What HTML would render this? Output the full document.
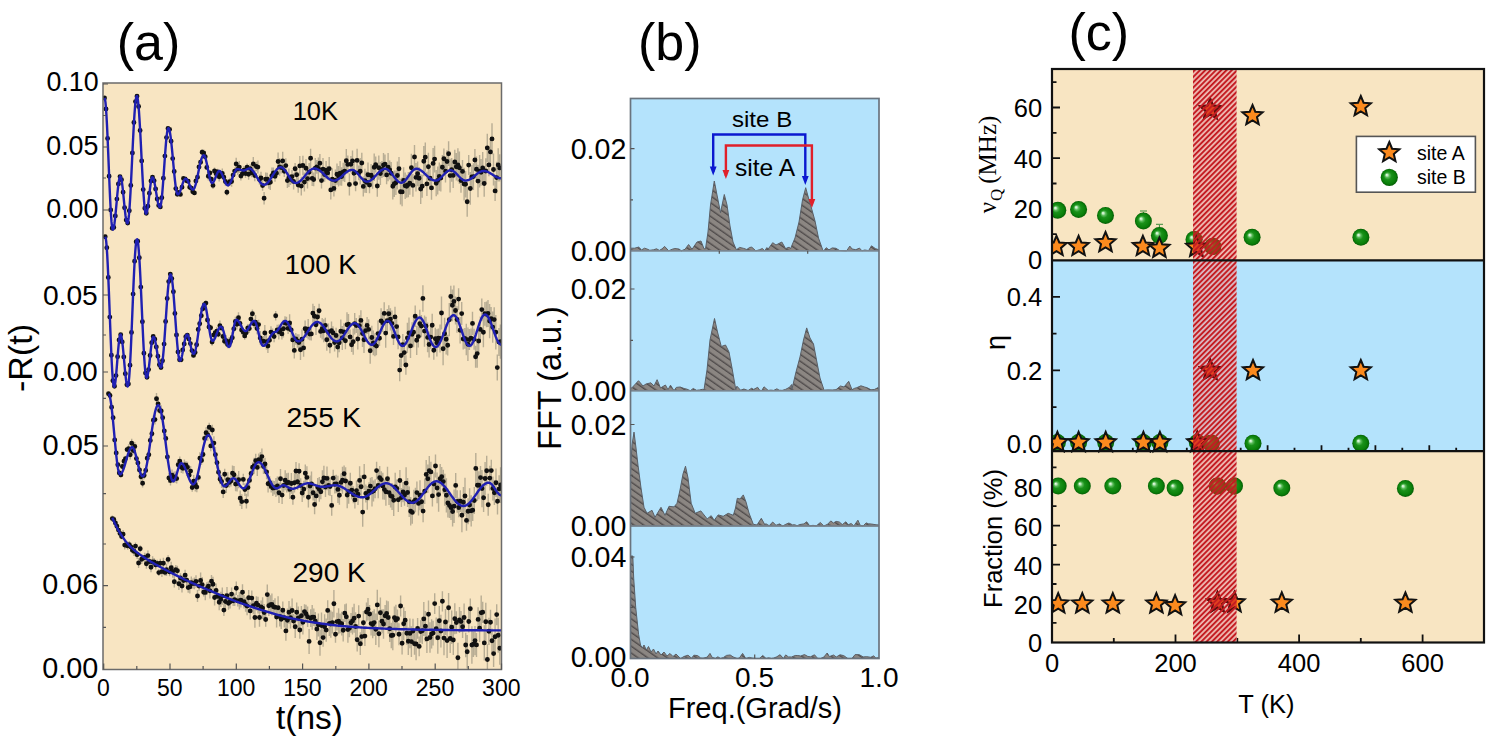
<!DOCTYPE html><html><head><meta charset="utf-8"><style>html,body{margin:0;padding:0;background:#fff;}svg{display:block;}</style></head><body>
<svg width="1494" height="748" viewBox="0 0 1494 748">
<defs>
<clipPath id="clipA"><rect x="103" y="83" width="398.5" height="586.5"/></clipPath>
<clipPath id="clipB"><rect x="630.5" y="98.5" width="248.5" height="560.0"/></clipPath>
<pattern id="hatchB" patternUnits="userSpaceOnUse" width="5.6" height="8" patternTransform="rotate(-55)"><rect width="5.6" height="8" fill="#8b8682"/><path d="M0.7 -1V9" stroke="#4c4848" stroke-width="1.3"/></pattern>
<pattern id="hatchC" patternUnits="userSpaceOnUse" width="3.75" height="3.75" patternTransform="rotate(45)"><path d="M1.9 -1V5" stroke="#c41c22" stroke-width="2.4"/></pattern>
<radialGradient id="gball" cx="0.5" cy="0.5" r="0.5" fx="0.34" fy="0.35"><stop offset="0" stop-color="#f0fff0"/><stop offset="0.12" stop-color="#bfeabf"/><stop offset="0.25" stop-color="#5cbc5c"/><stop offset="0.45" stop-color="#1a911a"/><stop offset="0.8" stop-color="#0a800a"/><stop offset="1" stop-color="#065e06"/></radialGradient>
<clipPath id="clipC"><rect x="1052" y="69" width="432" height="573.5"/></clipPath>
<clipPath id="clipBand"><rect x="1193" y="69" width="43.59999999999991" height="573.5"/></clipPath>
<radialGradient id="bball" cx="0.5" cy="0.5" r="0.5" fx="0.34" fy="0.35"><stop offset="0" stop-color="#c8a070"/><stop offset="0.3" stop-color="#8a6420"/><stop offset="1" stop-color="#6a4a0c"/></radialGradient>
</defs>
<rect width="1494" height="748" fill="#fff"/>
<rect x="103" y="83" width="398.5" height="586.5" fill="#F8E5C2"/>
<g clip-path="url(#clipA)">
<path d="M180.4 193.2v2.5M185.1 177.6v2.8M186.6 179.1v3.4M188.2 179.7v3M189.7 185.3v4.1M191.3 185.8v4.6M192.8 190v3.7M194.4 191.3v3.3M195.9 178.3v5.1M197.5 174.2v6M199 165v3.8M200.6 159.5v5.7M202.1 149v6.4M203.7 149.4v7M205.2 154.5v4.5M206.8 165.1v4.5M208.3 172.3v8.1M209.9 170.4v5M211.4 176.4v5.4M213 181.7v7.3M214.5 167.5v7M216.1 169.6v8.5M217.6 168.8v6.2M219.2 171.7v9.8M220.7 171.7v6.7M222.3 168.6v9.6M223.8 174.1v6.2M225.4 177.3v8.4M226.9 189.1v6.3M228.5 179.1v7.9M230 177.7v8M231.6 176.4v10.4M233.1 170.6v9.1M234.7 167.6v7M236.2 157.8v12.5M237.8 163v12.1M239.3 160.9v12.4M240.9 171.8v8.6M242.4 169v9.6M244 166v8.7M245.5 169.5v8.2M247.1 163.5v7.7M248.6 168.9v10.9M250.2 164.3v8.5M251.7 168.3v9M253.3 157.1v13.8M254.8 169.8v11.4M256.4 161.8v9.4M257.9 160.6v13M259.5 174.5v10.3M261 171.8v12.3M262.6 180.1v10.7M264.1 192.1v12.5M265.7 172.5v13.5M267.2 172.8v13M268.8 176.6v12.1M270.3 174.6v15.3M271.9 167.5v16.1M273.4 167.5v10.8M275 171.1v10.6M276.5 167.9v10.5M278.1 152.6v17.8M279.6 158.1v17.7M281.2 161.7v11.8M282.7 151.8v18.3M284.3 165.2v11.9M285.8 158.2v14.6M287.4 173.2v14.7M288.9 168.4v18.6M290.5 174v10.9M292 169.9v13.5M293.6 173.3v16.3M295.1 163v11.5M296.7 168.2v13.2M298.2 177.2v15.5M299.8 156.1v19.6M301.3 176.8v18.6M302.9 155.8v19.4M304.4 172.6v18.9M306 159.1v18.5M307.5 168.5v20.1M309.1 162.9v18.5M310.6 148.7v19.2M312.2 170.9v15M313.7 172.6v13.7M315.3 158.1v19.9M316.8 159.9v13.9M318.4 157.5v21.9M319.9 153.9v18.6M321.5 172.6v15.9M323 158v22.5M324.6 167.5v14.3M326.1 161.1v18.2M327.7 166v13.8M329.2 157.1v23.5M330.8 180.3v19.3M332.3 168.2v22M333.9 180.3v16.3M335.4 169.4v22.2M337 163.5v21.3M338.5 165.9v20.7M340.1 161v24.4M341.6 167.2v18.6M343.2 162.7v18.5M344.7 160.2v21.8M346.3 148.9v23.7M347.8 155.5v17.9M349.4 173.5v22M350.9 156v16.6M352.5 150.5v20.8M354 161.5v23.6M355.6 176.1v15.1M357.1 148.7v23.4M358.7 165.6v14.7M360.2 157.9v26.5M361.8 152.8v20.6M363.3 176.5v19.9M364.9 168.8v24M366.4 171.4v21.6M368 162.6v24.4M369.5 177v16.2M371.1 164v22.5M372.6 166.2v22.6M374.2 153.5v27.6M375.7 156.6v16M377.3 175.2v21.6M378.8 155.6v24.1M380.4 162v23.1M381.9 161.1v16.8M383.5 153v23.9M385 154.6v19M386.6 165.5v18.7M388.1 153v28.3M389.7 160.4v19M391.2 162v22.7M392.8 172.7v26.9M394.3 170.4v26.5M395.9 170.6v24.4M397.4 161.4v28.2M399 157.1v23.4M400.5 178.8v25.8M402.1 177.6v28.7M403.6 167.2v26.7M405.2 172.6v26.3M406.7 174.8v22.9M408.3 172v25.2M409.8 171.8v22.9M411.4 153.7v28M412.9 174v22.8M414.5 144.9v24.1M416 163.1v28.4M417.6 161.5v24.8M419.1 167v22.4M420.7 174.2v29.7M422.2 174.7v23.1M423.8 146.1v30.1M425.3 142.5v29.3M426.9 171.8v24.3M428.4 152.7v28.3M430 169.2v18.2M431.5 176.1v23.6M433.1 148v30.8M434.6 145.8v26.6M436.2 170v26.3M437.7 166.5v28M439.3 162.4v28.3M440.8 164.6v26.9M442.4 155v24.5M443.9 148.4v20.9M445.5 159.9v22.6M447 150.2v22.7M448.6 141.2v24.9M450.1 158.7v33.8M451.7 157.9v23.8M453.2 162.7v25.3M454.8 149.8v24.2M456.3 153.1v27.5M457.9 148.2v33.4M459.4 151.4v32.5M461 168.3v24.5M462.5 160v22.8M464.1 167.8v32.7M465.6 170.9v26.5M467.2 187v29.7M468.7 155.1v19.9M470.3 172.1v32.7M471.8 165.1v23.9M473.4 163.2v26.8M474.9 149v22.1M476.5 156.4v25.8M478 164.8v32.5M479.6 155v32.5M481.1 158.9v26.8M482.7 152.1v31.7M484.2 170.1v26.7M485.8 158.3v25.3M487.3 133.8v28.3M488.9 153.6v22.6M490.4 139.6v24.6M492 123.3v31.1M493.5 153.4v32.2M495.1 180.7v20.4M496.6 161.8v31.8M498.2 148.3v33.2M499.7 154.3v27.1M181.1 358.4v2.6M185.8 335.5v2.5M187.3 333.8v2.7M188.9 337v3.9M190.4 341.9v3.3M192 349v3.4M193.5 353.2v4.4M195.1 350.8v3.5M196.6 343v3.4M198.2 326.8v5.3M199.7 321v5.7M201.3 313.5v4.6M202.8 305.8v5.9M204.4 302.7v4.1M205.9 300.4v5.6M207.5 316.8v6.4M209 324.3v5.4M210.6 324.8v6M212.1 338.4v7.3M213.7 331.2v7.4M215.2 329.9v5.8M216.8 327v8.5M218.3 331.4v5.8M219.9 320.6v10.2M221.4 324.5v6.7M223 332.9v7.1M224.5 337.8v6.9M226.1 335v11.1M227.6 340.7v7.6M229.2 337.1v9.5M230.7 335v11.7M232.3 331.9v11.7M233.8 325.5v6.8M235.4 316.7v9.7M236.9 319.1v10.3M238.5 312.3v11M240 319v9M241.6 325.5v9.1M243.1 328.4v7.2M244.7 332.1v7.6M246.2 327.3v10.9M247.8 323.9v8M249.3 324.1v9M250.9 314.1v10M252.4 309.5v8.3M254 319.7v8.2M255.5 314.9v14.5M257.1 323v11.3M258.6 319.7v9.8M260.2 331.1v13.5M261.7 336.9v8.6M263.3 336v10.4M264.8 325v15.9M266.4 333.9v15.7M267.9 339.1v13.8M269.5 335.5v9.8M271 326.3v11.7M272.6 328.5v9.5M274.1 331v11.2M275.7 310.9v9.7M277.2 324.7v10.6M278.8 324.4v15M280.3 324.8v10.7M281.9 328.2v11.3M283.4 319.8v17.8M285 316.3v13.1M286.5 316.8v13.2M288.1 322.8v11.1M289.6 314.2v17.6M291.2 321.5v16.7M292.7 332.1v15.7M294.3 342.1v16.5M295.8 333v11.8M297.4 334.2v13.5M298.9 334.3v16.7M300.5 339.7v20.4M302 329.5v19.2M303.6 339.1v17.7M305.1 320.4v16.6M306.7 326v11.7M308.2 319v20.6M309.8 327.9v12.4M311.3 327.3v13.1M312.9 303.7v19M314.4 306v20.4M316 314.6v20.3M317.5 308.5v16.9M319.1 303.7v14.1M320.6 325.1v12.7M322.2 318v21.5M323.7 319.2v23M325.3 317.7v15.3M326.8 328.7v22.1M328.4 323.4v17.2M329.9 337v16.3M331.5 321.5v18.6M333 326.2v13.1M334.6 333.5v18.1M336.1 327.7v15.5M337.7 336.2v21.4M339.2 333.1v19.2M340.8 319.4v23.5M342.3 325.9v24M343.9 323.3v17.4M345.4 332.2v17M347 312.2v25M348.5 314.1v19.9M350.1 329.4v15.2M351.6 337.4v14.6M353.2 328.6v26.2M354.7 313.1v21.3M356.3 318.1v15M357.8 328.6v20.8M359.4 315.3v20.8M360.9 310.3v20.1M362.5 320.2v26.7M364 326.3v26.8M365.6 322.4v16.5M367.1 317v16.9M368.7 319.2v20.3M370.2 337.8v26M371.8 325.8v23.4M373.3 330.4v24.9M374.9 333.2v23M376.4 337v18.3M378 320.4v26.5M379.5 330.3v15.8M381.1 308.3v25.2M382.6 313.5v18.5M384.2 302.3v22.3M385.7 318.4v29.4M387.3 308.9v23.5M388.8 305.3v17M390.4 308.2v22.2M391.9 310.6v25.6M393.5 327.8v17.2M395 306.8v20.1M396.6 318.2v16.9M398.1 324.8v24.4M399.7 359v22.3M401.2 343.4v24.1M402.8 334.1v21.2M404.3 339.4v26.4M405.9 355.2v19.5M407.4 322.8v30.2M409 317.4v31.1M410.5 333.7v24.3M412.1 322.2v24M413.6 317.4v29.8M415.2 305.5v21.5M416.7 325.7v29.2M418.3 325.8v21.6M419.8 309.7v28.1M421.4 314.9v22.4M422.9 285.2v26.5M424.5 315.4v31.4M426 316.8v18.3M427.6 322.5v29.7M429.1 331.6v25.8M430.7 325.4v23.4M432.2 313.7v23M433.8 340.9v18.8M435.3 327.8v21.7M436.9 329.2v27.4M438.4 328.5v19.4M440 324.4v28.2M441.5 296.6v32.8M443.1 332.2v33.1M444.6 317.8v31.8M446.2 323.9v30.6M447.7 334.7v20.9M449.3 303v33.3M450.8 285.8v21.4M452.4 289.4v31.9M453.9 285.4v32.1M455.5 296.5v28.1M457 306.2v26.6M458.6 288.3v21.6M460.1 316.9v26.7M461.7 302v23.1M463.2 328.8v20.6M464.8 328.1v20.7M466.3 323.7v31.5M467.9 327.5v33.5M469.4 329.1v21M471 328.6v19M472.5 311.8v23.1M474.1 328.7v21M475.6 345.8v22M477.2 339.3v28.4M478.7 328.1v25.9M480.3 316.4v26.1M481.8 298.4v22.5M483.4 317.3v30M484.9 301.9v23.9M486.5 301.4v25.8M488 300.1v26.9M489.6 303.9v34.3M491.1 306.9v23.4M492.7 311.4v31.3M494.2 307.3v24.6M495.8 315v34.4M497.3 354.5v26.1M498.9 328.1v28M500.4 324.5v34.3M108.5 392.6v2.4M110 393.3v4.4M111.6 405.1v4.2M113.1 415.3v4.9M114.7 437.6v4.9M116.2 449.9v6M117.8 462.5v4.7M119.3 469.8v6.3M120.9 472.4v5.1M122.4 463.4v6.3M124 457.6v7.4M125.5 455.8v5.7M127.1 446.9v5.4M128.6 444.2v9M130.2 450v9.5M131.7 438.8v8.9M133.3 446.9v7.3M134.8 442v9M136.4 455.5v6.2M137.9 458.3v9.2M139.5 465.6v8.9M141 472.2v9.2M142.6 479.1v8.4M144.1 471.9v7.3M145.7 465.4v10M147.2 453.9v8.7M148.8 449.6v10.3M150.3 436.3v8.3M151.9 430.4v6.8M153.4 415.5v9.4M155 414.6v9.9M156.5 392.9v11.7M158.1 398.1v11.6M159.6 407.1v7M161.2 405.3v11.1M162.7 413.6v8.3M164.3 425.6v10.9M165.8 433.8v9.1M167.4 452.6v8.8M168.9 473.1v9.9M170.5 475.4v10.2M172 469.6v11.3M173.6 471.7v11M175.1 471.3v11.4M176.7 473.8v9.6M178.2 459.1v11.5M179.8 456.6v9.5M181.3 461.7v11.2M182.9 463.1v10.4M184.4 459.4v11.1M186 461.2v7.7M187.5 461.7v10.9M189.1 470.7v9.1M190.6 466v10.3M192.2 483.4v8.3M193.7 475v12.2M195.3 477.6v13.9M196.8 481.9v10.4M198.4 473.1v8.7M199.9 452.2v12.3M201.5 456.1v9M203 447.3v14.4M204.6 433.9v9.1M206.1 427.3v10.8M207.7 428.9v11.8M209.2 422.7v9.2M210.8 440.6v10.7M212.3 424.8v10.5M213.9 436.2v13.8M215.4 446.9v15.9M217 457.1v11.3M218.5 465v14.6M220.1 474.4v9.8M221.6 474.9v13.2M223.2 485.9v12.1M224.7 468.7v11.1M226.3 477.8v15.3M227.8 472.3v14.8M229.4 477.3v10.1M230.9 475.2v11.4M232.5 465.4v15.6M234 466.1v17.1M235.6 477v14.2M237.1 475.3v16.3M238.7 471v17.3M240.2 490.6v15.5M241.8 494.3v14.8M243.3 473.7v11.4M244.9 483.2v12.7M246.4 493.8v14.8M248 478.9v17.5M249.5 474.2v12.3M251.1 466.9v13.2M252.6 462.2v10.1M254.2 457.7v16M255.7 453.8v14M257.3 458.8v17.2M258.8 453.5v12.4M260.4 451.9v16.3M261.9 448.4v16.5M263.5 459.2v14.8M265 457.7v12.4M266.6 464.8v14.4M268.1 474.8v17.7M269.7 476.3v12.7M271.2 480.7v11.8M272.8 480.4v15.5M274.3 481.1v13.4M275.9 477.9v19M277.4 476.4v19.3M279 482.4v20.7M280.5 468.9v19.8M282.1 486v18M283.6 478.8v13.6M285.2 470.2v20.1M286.7 473.3v19.3M288.3 472.7v19.6M289.8 479.8v19.2M291.4 473.1v20.7M292.9 489.5v15.3M294.5 473v19.4M296 462.1v17.9M297.6 473.8v16.1M299.1 463.3v16.1M300.7 478.2v14.3M302.2 483.9v18.1M303.8 480.7v16.9M305.3 464.6v17.6M306.9 466.2v22.5M308.4 486.9v20.7M310 475.6v20.8M311.5 471.6v24.4M313.1 484.8v15.8M314.6 494.9v19.3M316.2 488.6v14.6M317.7 478.1v18.2M319.3 477v24.8M320.8 484.4v14.8M322.4 470.3v22.9M323.9 465.8v24.3M325.5 476.9v20.1M327 466.5v23.8M328.6 475.7v19.6M330.1 477.3v18.6M331.7 495.1v20.6M333.2 469.7v16.9M334.8 475.1v18.4M336.3 474.7v18.5M337.9 475.8v27.2M339.4 485.6v19.1M341 473.5v17.8M342.5 466.7v27.1M344.1 465.4v16.9M345.6 467.2v27.7M347.2 481.9v26.4M348.7 479.9v23.8M350.3 472.8v21.1M351.8 481.1v18.1M353.4 486.3v16.9M354.9 491.4v17M356.5 480.5v20.3M358 483.7v21.2M359.6 466.3v28.2M361.1 475.2v23.1M362.7 497.4v29.4M364.2 464.1v25.8M365.8 484.4v18M367.3 486v23.7M368.9 482.2v18.3M370.4 477.8v16.7M372 477.1v29.3M373.5 480.4v21M375.1 479.3v19M376.6 461.7v17.8M378.2 472.6v25.6M379.7 466.1v23M381.3 471.2v16.7M382.8 472.7v26.8M384.4 479.4v20.4M385.9 477.8v27.9M387.5 466.8v23.8M389 480.3v24.6M390.6 484v23.5M392.1 483.1v26.8M393.7 484.5v31.5M395.2 472.7v28.8M396.8 479.4v18.2M398.3 487.6v24.5M399.9 470.1v20.7M401.4 488.1v18.8M403 481.9v20.3M404.5 484.6v21.1M406.1 467.2v31.9M407.6 478.1v28.8M409.2 486.6v30.5M410.7 497.1v28.3M412.3 501.2v22.5M413.8 489.8v23.7M415.4 487.7v24.6M416.9 481.4v22.4M418.5 491.2v24.4M420 480.3v29.9M421.6 492.2v19.2M423.1 499.9v22.4M424.7 478.4v25.7M426.2 460v28.8M427.8 464.5v28.4M429.3 456v29.8M430.9 461.8v20.1M432.4 485.2v21.3M434 472.4v23.4M435.5 454.4v23.1M437.1 472.6v30.7M438.6 477.2v34.6M440.2 463.9v29.8M441.7 467v19.4M443.3 469.7v23.7M444.8 473.7v32M446.4 478.3v34.1M447.9 488.6v28.8M449.5 493.1v24.8M451 495v25M452.6 496.7v29.7M454.1 489.5v33.6M455.7 472.9v25M457.2 490.2v22.6M458.8 497.7v19.5M460.3 490.3v21.8M461.9 498.4v33.9M463.4 487.1v30.1M465 477.8v36.4M466.5 509.9v20.9M468.1 498.2v26M469.6 488.3v33.4M471.2 495.2v31.2M472.7 499.8v21.1M474.3 487v26.9M475.8 452.9v31.1M477.4 469.1v32M478.9 471.3v28M480.5 465.9v23.5M482 470v37.2M483.6 483.5v28.5M485.1 462v33M486.7 455.8v29.9M488.2 493.7v22M489.8 465.7v24.8M491.3 459.7v21.8M492.9 476.4v24.1M494.4 480.6v24.4M496 468.6v28.3M497.5 487.9v26.7M499.1 475.2v27.5M500.6 467.2v35.7M112.3 515.5v6.2M113.8 516v6.8M115.4 520.3v5.5M116.9 523.3v5.9M118.5 527.4v5.4M120 530.6v5.7M121.6 533.9v5.4M123.1 530v8.4M124.7 540.9v8.5M126.2 541.9v6.4M127.8 541.9v7.9M129.3 541v7.1M130.9 543.8v6.3M132.4 546.9v6.7M134 546.4v9.6M135.5 542.6v6.9M137.1 550.8v8.1M138.6 558.1v9.9M140.2 545.2v7M141.7 554.4v9.5M143.3 555v6.3M144.8 552.8v9.4M146.4 558.9v9.9M147.9 550.5v10.2M149.5 556v11M151 562.5v9.8M152.6 556.3v11.3M154.1 558.1v7.7M155.7 560.4v9.1M157.2 559.8v7.5M158.8 569.1v6.9M160.3 558.7v9M161.9 566.3v10.6M163.4 557.7v11.1M165 569v6.8M166.5 563.7v12.3M168.1 555.2v8.3M169.6 567.6v8.7M171.2 561.8v12M172.7 565.2v12.5M174.3 575.8v11.7M175.8 565.1v9.3M177.4 565.7v10.2M178.9 577.4v12.7M180.5 573.2v9.8M182 579.6v12.8M183.6 574.3v12.7M185.1 569.8v10.8M186.7 573.2v13.7M188.2 582.4v10.4M189.8 580.4v13M191.3 576.4v12.4M192.9 578.4v10.3M194.4 577.5v11.8M196 575.3v12.5M197.5 590v12.1M199.1 581.5v9.2M200.6 572.6v15.6M202.2 576.9v15.6M203.7 587.7v8.9M205.3 584.5v15.7M206.8 582.2v12.8M208.4 581.2v9.8M209.9 583.2v15.3M211.5 575.1v12.4M213 576.8v14.7M214.6 589.6v15.8M216.1 583.6v13.6M217.7 591.4v9.8M219.2 594.1v16.2M220.8 591.7v15.3M222.3 587.5v17.2M223.9 604.1v12M225.4 593.3v16.4M227 586.9v17.3M228.5 596.7v13M230.1 595v13.6M231.6 587.5v13.1M233.2 595.7v10.3M234.7 593.6v12.4M236.3 581.5v13.4M237.8 595.1v11.5M239.4 591.9v17.6M240.9 592.8v14.6M242.5 584.3v16M244 595v13.5M245.6 597.4v14.3M247.1 597v18.2M248.7 589.9v15.6M250.2 602.5v16.9M251.8 590.4v15.4M253.3 597.4v16.8M254.9 607.4v20.3M256.4 596.2v14.2M258 596.7v16.8M259.5 608.2v18.6M261.1 600.6v12.7M262.6 597.2v21.7M264.2 604v17.1M265.7 612.2v14.6M267.3 584.5v20.1M268.8 595.3v20.8M270.4 595.2v19M271.9 593.4v22.2M273.5 600v13.5M275 598.2v18.3M276.6 606.6v20.8M278.1 596.3v22.8M279.7 606.5v19.9M281.2 609.4v19.6M282.8 601.5v17.4M284.3 608v19.6M285.9 621.2v19.5M287.4 608.4v23.6M289 600.9v22.9M290.5 606.6v22M292.1 598.4v24.3M293.6 613.9v14.4M295.2 615.3v22.8M296.7 602.5v19.3M298.3 606.4v22.9M299.8 621.2v17.5M301.4 606v19.7M302.9 610.3v24.1M304.5 604.3v14.6M306 604.8v17.8M307.6 606.6v20.3M309.1 629v24.9M310.7 609.3v17.8M312.2 605v24.8M313.8 608.4v17.6M315.3 611.9v18.5M316.9 618.2v21.7M318.4 613.4v23.1M320 629.8v26M321.5 612.5v26.1M323.1 628.5v18.2M324.6 614.3v24.6M326.2 618.4v23.3M327.7 600.3v20.2M329.3 610.7v25.4M330.8 610.6v27.1M332.4 611.8v21.7M333.9 590v27.5M335.5 625.6v17.2M337 612.8v17.8M338.6 608.3v25.9M340.1 613.4v19.8M341.7 611.8v23.7M343.2 619v22.6M344.8 604.2v17.9M346.3 603.6v26.3M347.9 616.5v26.2M349.4 619.1v18.1M351 613v19.7M352.5 607.2v27.3M354.1 603.7v29M355.6 612.2v28.5M357.2 628v23.5M358.7 605.3v21.7M360.3 632.3v22.8M361.8 627v19.1M363.4 610.9v23.7M364.9 626.1v20M366.5 602.5v19.1M368 598v22.4M369.6 605.1v17.9M371.1 611.7v23.8M372.7 611v27.2M374.2 609.2v26.7M375.8 613.6v31.5M377.3 589.8v30.3M378.9 620.5v26.7M380.4 597.4v30.8M382 609.2v24.1M383.5 609.3v29.5M385.1 604.9v21.9M386.6 600.6v25.6M388.2 601.2v32.6M389.7 615.2v26.9M391.3 622.7v25.6M392.8 620.2v30M394.4 606.4v22.8M395.9 604.7v30.9M397.5 609.5v18.4M399 623.3v21.9M400.6 595.6v21M402.1 632.1v22.3M403.7 607.2v33.1M405.2 611v18.7M406.8 621.7v23.1M408.3 627.5v27.5M409.9 618.6v29.6M411.4 626.2v30.8M413 618.7v24.7M414.5 632.7v22.1M416.1 627.9v32.3M417.6 618.1v20.7M419.2 636.5v19.8M420.7 620.3v22.5M422.3 617.3v26.8M423.8 601.9v34.1M425.4 611v30.7M426.9 624.9v28.1M428.5 600.5v27.5M430 622.3v30.4M431.6 619.3v29.3M433.1 620.8v24.6M434.7 593.2v20.7M436.2 617.4v22.5M437.8 621.6v32.2M439.3 605.9v29.8M440.9 614.8v32.6M442.4 591.3v20.1M444 620.9v34.4M445.5 609.1v25.9M447.1 623.1v35M448.6 592.9v29.5M450.2 624.1v28.8M451.7 610.5v33.4M453.3 624.8v30.2M454.8 603.2v31.1M456.4 611.3v22.5M457.9 642.7v30.1M459.5 607v25.9M461 610.9v21.2M462.6 615.7v22.2M464.1 603.4v28.2M465.7 632.7v24.5M467.2 635.1v33.3M468.8 610.3v22.2M470.3 598.5v20.4M471.9 626.2v37.5M473.4 631.4v25.7M475 626.1v29.2M476.5 632.9v24M478.1 607.3v24M479.6 614.5v27.5M481.2 595.6v34.3M482.7 601.7v21.2M484.3 625.2v35.3M485.8 602.7v38.1M487.4 644.3v30.5M488.9 617.8v27.1M490.5 609.7v24.9M492 628.6v24M493.6 640.3v26.6M495.1 618.6v36.1M496.7 604.2v21M498.2 617.7v35.1M499.8 631.8v33" stroke="#a89f88" stroke-width="1.4" fill="none" opacity="0.8"/>
<path d="M104.5 98h0M106 109h0M107.6 138.4h0M109.1 176.2h0M110.7 210h0M112.2 228.2h0M113.8 227.4h0M115.3 215.9h0M116.9 199.1h0M118.4 183.9h0M120 176.6h0M121.5 179.8h0M123.1 192.2h0M124.6 207.8h0M126.2 220.1h0M127.7 223h0M129.3 210.7h0M130.8 185.4h0M132.4 153h0M133.9 122.5h0M135.5 101.6h0M137 96.2h0M138.6 106.5h0M140.1 130.5h0M141.7 160.9h0M143.2 189.6h0M144.8 208.3h0M146.3 213.3h0M147.9 206.3h0M149.4 193.3h0M151 181h0M152.5 177.2h0M154.1 180.7h0M155.6 189h0M157.2 199h0M158.7 205.4h0M160.3 206.9h0M161.8 197.8h0M163.4 178.2h0M164.9 156.1h0M166.5 137.6h0M168 128.5h0M169.6 129.4h0M171.1 141.2h0M172.7 158.6h0M174.2 171.5h0M175.8 188.6h0M177.3 194.2h0M178.9 192.4h0M180.4 194.4h0M182 187.3h0M183.5 178.4h0M185.1 179h0M186.6 180.8h0M188.2 181.2h0M189.7 187.3h0M191.3 188.2h0M192.8 191.8h0M194.4 192.9h0M195.9 180.9h0M197.5 177.2h0M199 166.9h0M200.6 162.3h0M202.1 152.2h0M203.7 152.9h0M205.2 156.7h0M206.8 167.4h0M208.3 176.3h0M209.9 172.9h0M211.4 179.1h0M213 185.4h0M214.5 171h0M216.1 173.8h0M217.6 172h0M219.2 176.7h0M220.7 175.1h0M222.3 173.4h0M223.8 177.2h0M225.4 181.5h0M226.9 192.3h0M228.5 183h0M230 181.7h0M231.6 181.5h0M233.1 175.1h0M234.7 171.1h0M236.2 164h0M237.8 169.1h0M239.3 167.1h0M240.9 176.1h0M242.4 173.8h0M244 170.3h0M245.5 173.5h0M247.1 167.3h0M248.6 174.3h0M250.2 168.6h0M251.7 172.8h0M253.3 164h0M254.8 175.5h0M256.4 166.5h0M257.9 167.1h0M259.5 179.6h0M261 178h0M262.6 185.5h0M264.1 198.3h0M265.7 179.2h0M267.2 179.3h0M268.8 182.7h0M270.3 182.3h0M271.9 175.6h0M273.4 172.9h0M275 176.3h0M276.5 173.2h0M278.1 161.5h0M279.6 166.9h0M281.2 167.6h0M282.7 160.9h0M284.3 171.2h0M285.8 165.6h0M287.4 180.6h0M288.9 177.7h0M290.5 179.4h0M292 176.6h0M293.6 181.4h0M295.1 168.7h0M296.7 174.8h0M298.2 185h0M299.8 165.9h0M301.3 186.1h0M302.9 165.5h0M304.4 182.1h0M306 168.3h0M307.5 178.6h0M309.1 172.2h0M310.6 158.3h0M312.2 178.4h0M313.7 179.5h0M315.3 168.1h0M316.8 166.9h0M318.4 168.5h0M319.9 163.2h0M321.5 180.6h0M323 169.2h0M324.6 174.6h0M326.1 170.2h0M327.7 172.9h0M329.2 168.8h0M330.8 189.9h0M332.3 179.2h0M333.9 188.4h0M335.4 180.5h0M337 174.2h0M338.5 176.3h0M340.1 173.2h0M341.6 176.5h0M343.2 171.9h0M344.7 171.1h0M346.3 160.7h0M347.8 164.4h0M349.4 184.5h0M350.9 164.3h0M352.5 160.9h0M354 173.3h0M355.6 183.6h0M357.1 160.4h0M358.7 173h0M360.2 171.2h0M361.8 163h0M363.3 186.4h0M364.9 180.8h0M366.4 182.2h0M368 174.8h0M369.5 185h0M371.1 175.2h0M372.6 177.5h0M374.2 167.3h0M375.7 164.6h0M377.3 186h0M378.8 167.7h0M380.4 173.5h0M381.9 169.5h0M383.5 165h0M385 164.1h0M386.6 174.9h0M388.1 167.1h0M389.7 169.9h0M391.2 173.3h0M392.8 186.2h0M394.3 183.7h0M395.9 182.8h0M397.4 175.5h0M399 168.8h0M400.5 191.7h0M402.1 191.9h0M403.6 180.5h0M405.2 185.8h0M406.7 186.2h0M408.3 184.6h0M409.8 183.2h0M411.4 167.7h0M412.9 185.4h0M414.5 157h0M416 177.4h0M417.6 173.8h0M419.1 178.2h0M420.7 189.1h0M422.2 186.3h0M423.8 161.2h0M425.3 157.2h0M426.9 183.9h0M428.4 166.8h0M430 178.2h0M431.5 187.9h0M433.1 163.4h0M434.6 159.1h0M436.2 183.2h0M437.7 180.5h0M439.3 176.5h0M440.8 178.1h0M442.4 167.2h0M443.9 158.8h0M445.5 171.2h0M447 161.5h0M448.6 153.7h0M450.1 175.6h0M451.7 169.8h0M453.2 175.4h0M454.8 161.9h0M456.3 166.8h0M457.9 164.9h0M459.4 167.7h0M461 180.5h0M462.5 171.4h0M464.1 184.1h0M465.6 184.2h0M467.2 201.8h0M468.7 165.1h0M470.3 188.5h0M471.8 177h0M473.4 176.6h0M474.9 160h0M476.5 169.3h0M478 181.1h0M479.6 171.3h0M481.1 172.3h0M482.7 167.9h0M484.2 183.5h0M485.8 171h0M487.3 147.9h0M488.9 164.9h0M490.4 151.9h0M492 138.9h0M493.5 169.5h0M495.1 190.9h0M496.6 177.6h0M498.2 164.9h0M499.7 167.9h0M105.2 236.8h0M106.8 247.7h0M108.3 277.4h0M109.8 317.1h0M111.4 355.2h0M112.9 380.7h0M114.5 386.3h0M116 375.6h0M117.6 356.8h0M119.1 340h0M120.7 334.7h0M122.2 341.9h0M123.8 357h0M125.3 373.8h0M126.9 384.8h0M128.4 384h0M130 365.2h0M131.5 332.4h0M133.1 294.1h0M134.6 261.2h0M136.2 241.8h0M137.7 241.2h0M139.3 257.8h0M140.8 287.1h0M142.4 321.7h0M143.9 353.2h0M145.5 373.1h0M147 377.3h0M148.6 369.6h0M150.1 355.5h0M151.7 342.8h0M153.2 336.5h0M154.8 339.2h0M156.3 347h0M157.9 356.3h0M159.4 364.8h0M161 367.5h0M162.5 360.8h0M164.1 344.1h0M165.6 321.5h0M167.2 298.5h0M168.7 281.6h0M170.3 274.1h0M171.8 278.6h0M173.4 291.7h0M174.9 313.4h0M176.5 335h0M178 351.9h0M179.6 359.8h0M181.1 359.7h0M182.7 349.9h0M184.2 343.9h0M185.8 336.7h0M187.3 335.1h0M188.9 338.9h0M190.4 343.6h0M192 350.6h0M193.5 355.4h0M195.1 352.5h0M196.6 344.7h0M198.2 329.5h0M199.7 323.8h0M201.3 315.7h0M202.8 308.8h0M204.4 304.8h0M205.9 303.1h0M207.5 320h0M209 327h0M210.6 327.8h0M212.1 342h0M213.7 334.9h0M215.2 332.8h0M216.8 331.2h0M218.3 334.3h0M219.9 325.7h0M221.4 327.9h0M223 336.5h0M224.5 341.3h0M226.1 340.6h0M227.6 344.5h0M229.2 341.8h0M230.7 340.8h0M232.3 337.8h0M233.8 328.9h0M235.4 321.5h0M236.9 324.3h0M238.5 317.8h0M240 323.5h0M241.6 330h0M243.1 332h0M244.7 335.9h0M246.2 332.8h0M247.8 327.9h0M249.3 328.6h0M250.9 319.1h0M252.4 313.7h0M254 323.8h0M255.5 322.2h0M257.1 328.6h0M258.6 324.6h0M260.2 337.9h0M261.7 341.2h0M263.3 341.3h0M264.8 333h0M266.4 341.7h0M267.9 346h0M269.5 340.3h0M271 332.1h0M272.6 333.3h0M274.1 336.6h0M275.7 315.8h0M277.2 330h0M278.8 331.8h0M280.3 330.1h0M281.9 333.9h0M283.4 328.7h0M285 322.9h0M286.5 323.4h0M288.1 328.4h0M289.6 323h0M291.2 329.9h0M292.7 339.9h0M294.3 350.4h0M295.8 338.9h0M297.4 341h0M298.9 342.6h0M300.5 349.8h0M302 339.2h0M303.6 347.9h0M305.1 328.7h0M306.7 331.9h0M308.2 329.3h0M309.8 334.1h0M311.3 333.9h0M312.9 313.2h0M314.4 316.2h0M316 324.8h0M317.5 317h0M319.1 310.7h0M320.6 331.4h0M322.2 328.8h0M323.7 330.8h0M325.3 325.4h0M326.8 339.8h0M328.4 332h0M329.9 345.2h0M331.5 330.8h0M333 332.8h0M334.6 342.6h0M336.1 335.5h0M337.7 347h0M339.2 342.7h0M340.8 331.2h0M342.3 337.9h0M343.9 332h0M345.4 340.8h0M347 324.7h0M348.5 324.1h0M350.1 336.9h0M351.6 344.8h0M353.2 341.7h0M354.7 323.8h0M356.3 325.6h0M357.8 339h0M359.4 325.7h0M360.9 320.4h0M362.5 333.5h0M364 339.7h0M365.6 330.6h0M367.1 325.4h0M368.7 329.4h0M370.2 350.7h0M371.8 337.5h0M373.3 342.9h0M374.9 344.7h0M376.4 346.1h0M378 333.6h0M379.5 338.2h0M381.1 320.9h0M382.6 322.8h0M384.2 313.4h0M385.7 333.1h0M387.3 320.7h0M388.8 313.8h0M390.4 319.3h0M391.9 323.4h0M393.5 336.4h0M395 316.9h0M396.6 326.6h0M398.1 337h0M399.7 370.1h0M401.2 355.5h0M402.8 344.7h0M404.3 352.6h0M405.9 365h0M407.4 337.9h0M409 332.9h0M410.5 345.9h0M412.1 334.2h0M413.6 332.3h0M415.2 316.2h0M416.7 340.3h0M418.3 336.6h0M419.8 323.8h0M421.4 326.1h0M422.9 298.4h0M424.5 331.1h0M426 326h0M427.6 337.4h0M429.1 344.5h0M430.7 337.1h0M432.2 325.2h0M433.8 350.3h0M435.3 338.7h0M436.9 342.8h0M438.4 338.2h0M440 338.5h0M441.5 313h0M443.1 348.8h0M444.6 333.7h0M446.2 339.2h0M447.7 345.2h0M449.3 319.7h0M450.8 296.5h0M452.4 305.3h0M453.9 301.4h0M455.5 310.5h0M457 319.5h0M458.6 299.1h0M460.1 330.3h0M461.7 313.6h0M463.2 339h0M464.8 338.5h0M466.3 339.4h0M467.9 344.3h0M469.4 339.6h0M471 338.1h0M472.5 323.4h0M474.1 339.2h0M475.6 356.8h0M477.2 353.6h0M478.7 341h0M480.3 329.4h0M481.8 309.6h0M483.4 332.3h0M484.9 313.8h0M486.5 314.3h0M488 313.5h0M489.6 321h0M491.1 318.6h0M492.7 327.1h0M494.2 319.6h0M495.8 332.3h0M497.3 367.6h0M498.9 342.1h0M500.4 341.6h0M108.5 393.8h0M110 395.5h0M111.6 407.2h0M113.1 417.7h0M114.7 440h0M116.2 452.9h0M117.8 464.8h0M119.3 472.9h0M120.9 474.9h0M122.4 466.5h0M124 461.3h0M125.5 458.6h0M127.1 449.6h0M128.6 448.7h0M130.2 454.7h0M131.7 443.3h0M133.3 450.6h0M134.8 446.5h0M136.4 458.6h0M137.9 462.9h0M139.5 470h0M141 476.8h0M142.6 483.2h0M144.1 475.5h0M145.7 470.4h0M147.2 458.3h0M148.8 454.8h0M150.3 440.4h0M151.9 433.8h0M153.4 420.2h0M155 419.6h0M156.5 398.7h0M158.1 403.9h0M159.6 410.6h0M161.2 410.9h0M162.7 417.7h0M164.3 431h0M165.8 438.4h0M167.4 457h0M168.9 478h0M170.5 480.5h0M172 475.2h0M173.6 477.2h0M175.1 476.9h0M176.7 478.6h0M178.2 464.8h0M179.8 461.3h0M181.3 467.3h0M182.9 468.3h0M184.4 465h0M186 465.1h0M187.5 467.2h0M189.1 475.3h0M190.6 471.1h0M192.2 487.5h0M193.7 481.1h0M195.3 484.5h0M196.8 487.1h0M198.4 477.4h0M199.9 458.3h0M201.5 460.5h0M203 454.5h0M204.6 438.4h0M206.1 432.7h0M207.7 434.8h0M209.2 427.3h0M210.8 445.9h0M212.3 430h0M213.9 443.1h0M215.4 454.8h0M217 462.7h0M218.5 472.3h0M220.1 479.3h0M221.6 481.5h0M223.2 491.9h0M224.7 474.2h0M226.3 485.5h0M227.8 479.7h0M229.4 482.4h0M230.9 481h0M232.5 473.2h0M234 474.7h0M235.6 484.1h0M237.1 483.5h0M238.7 479.7h0M240.2 498.3h0M241.8 501.6h0M243.3 479.4h0M244.9 489.5h0M246.4 501.2h0M248 487.6h0M249.5 480.4h0M251.1 473.5h0M252.6 467.3h0M254.2 465.7h0M255.7 460.8h0M257.3 467.4h0M258.8 459.6h0M260.4 460h0M261.9 456.6h0M263.5 466.5h0M265 463.9h0M266.6 472h0M268.1 483.7h0M269.7 482.6h0M271.2 486.6h0M272.8 488.1h0M274.3 487.8h0M275.9 487.4h0M277.4 486h0M279 492.7h0M280.5 478.8h0M282.1 495.1h0M283.6 485.5h0M285.2 480.3h0M286.7 482.9h0M288.3 482.5h0M289.8 489.4h0M291.4 483.5h0M292.9 497.2h0M294.5 482.7h0M296 471h0M297.6 481.8h0M299.1 471.3h0M300.7 485.4h0M302.2 493h0M303.8 489.2h0M305.3 473.3h0M306.9 477.4h0M308.4 497.2h0M310 486h0M311.5 483.9h0M313.1 492.7h0M314.6 504.5h0M316.2 495.9h0M317.7 487.2h0M319.3 489.4h0M320.8 491.8h0M322.4 481.8h0M323.9 478h0M325.5 487h0M327 478.4h0M328.6 485.5h0M330.1 486.6h0M331.7 505.4h0M333.2 478.1h0M334.8 484.3h0M336.3 483.9h0M337.9 489.4h0M339.4 495.2h0M341 482.4h0M342.5 480.2h0M344.1 473.8h0M345.6 481h0M347.2 495.1h0M348.7 491.8h0M350.3 483.3h0M351.8 490.1h0M353.4 494.7h0M354.9 499.9h0M356.5 490.6h0M358 494.3h0M359.6 480.4h0M361.1 486.7h0M362.7 512.1h0M364.2 476.9h0M365.8 493.4h0M367.3 497.8h0M368.9 491.3h0M370.4 486.1h0M372 491.8h0M373.5 490.9h0M375.1 488.8h0M376.6 470.6h0M378.2 485.5h0M379.7 477.7h0M381.3 479.6h0M382.8 486.1h0M384.4 489.6h0M385.9 491.8h0M387.5 478.7h0M389 492.6h0M390.6 495.8h0M392.1 496.5h0M393.7 500.2h0M395.2 487h0M396.8 488.4h0M398.3 499.8h0M399.9 480.5h0M401.4 497.5h0M403 492h0M404.5 495.2h0M406.1 483.1h0M407.6 492.5h0M409.2 501.8h0M410.7 511.2h0M412.3 512.4h0M413.8 501.7h0M415.4 500h0M416.9 492.6h0M418.5 503.4h0M420 495.2h0M421.6 501.8h0M423.1 511.1h0M424.7 491.2h0M426.2 474.4h0M427.8 478.7h0M429.3 470.8h0M430.9 471.9h0M432.4 495.9h0M434 484.1h0M435.5 466h0M437.1 488h0M438.6 494.6h0M440.2 478.8h0M441.7 476.7h0M443.3 481.6h0M444.8 489.7h0M446.4 495.3h0M447.9 503h0M449.5 505.5h0M451 507.5h0M452.6 511.5h0M454.1 506.3h0M455.7 485.4h0M457.2 501.5h0M458.8 507.5h0M460.3 501.2h0M461.9 515.3h0M463.4 502.2h0M465 496h0M466.5 520.4h0M468.1 511.2h0M469.6 505h0M471.2 510.8h0M472.7 510.3h0M474.3 500.5h0M475.8 468.4h0M477.4 485.2h0M478.9 485.3h0M480.5 477.6h0M482 488.5h0M483.6 497.8h0M485.1 478.5h0M486.7 470.7h0M488.2 504.7h0M489.8 478.1h0M491.3 470.6h0M492.9 488.4h0M494.4 492.7h0M496 482.7h0M497.5 501.3h0M499.1 488.9h0M500.6 485h0M112.3 518.6h0M113.8 519.4h0M115.4 523h0M116.9 526.2h0M118.5 530.1h0M120 533.4h0M121.6 536.6h0M123.1 534.2h0M124.7 545.1h0M126.2 545.1h0M127.8 545.9h0M129.3 544.6h0M130.9 546.9h0M132.4 550.3h0M134 551.2h0M135.5 546.1h0M137.1 554.8h0M138.6 563h0M140.2 548.7h0M141.7 559.2h0M143.3 558.1h0M144.8 557.5h0M146.4 563.8h0M147.9 555.6h0M149.5 561.5h0M151 567.3h0M152.6 562h0M154.1 562h0M155.7 564.9h0M157.2 563.5h0M158.8 572.6h0M160.3 563.2h0M161.9 571.6h0M163.4 563.3h0M165 572.4h0M166.5 569.8h0M168.1 559.4h0M169.6 571.9h0M171.2 567.8h0M172.7 571.5h0M174.3 581.7h0M175.8 569.8h0M177.4 570.8h0M178.9 583.8h0M180.5 578h0M182 586h0M183.6 580.6h0M185.1 575.2h0M186.7 580.1h0M188.2 587.6h0M189.8 586.9h0M191.3 582.6h0M192.9 583.6h0M194.4 583.4h0M196 581.5h0M197.5 596h0M199.1 586.1h0M200.6 580.4h0M202.2 584.7h0M203.7 592.2h0M205.3 592.4h0M206.8 588.6h0M208.4 586.1h0M209.9 590.8h0M211.5 581.3h0M213 584.2h0M214.6 597.5h0M216.1 590.4h0M217.7 596.3h0M219.2 602.2h0M220.8 599.4h0M222.3 596.1h0M223.9 610.1h0M225.4 601.5h0M227 595.6h0M228.5 603.3h0M230.1 601.8h0M231.6 594.1h0M233.2 600.8h0M234.7 599.8h0M236.3 588.2h0M237.8 600.9h0M239.4 600.7h0M240.9 600.1h0M242.5 592.3h0M244 601.8h0M245.6 604.5h0M247.1 606.1h0M248.7 597.7h0M250.2 610.9h0M251.8 598.1h0M253.3 605.8h0M254.9 617.5h0M256.4 603.3h0M258 605.1h0M259.5 617.5h0M261.1 607h0M262.6 608.1h0M264.2 612.6h0M265.7 619.5h0M267.3 594.6h0M268.8 605.7h0M270.4 604.7h0M271.9 604.5h0M273.5 606.8h0M275 607.3h0M276.6 617h0M278.1 607.7h0M279.7 616.4h0M281.2 619.2h0M282.8 610.2h0M284.3 617.8h0M285.9 630.9h0M287.4 620.2h0M289 612.3h0M290.5 617.6h0M292.1 610.5h0M293.6 621.1h0M295.2 626.7h0M296.7 612.2h0M298.3 617.9h0M299.8 630h0M301.4 615.8h0M302.9 622.3h0M304.5 611.6h0M306 613.7h0M307.6 616.7h0M309.1 641.4h0M310.7 618.2h0M312.2 617.3h0M313.8 617.3h0M315.3 621.2h0M316.9 629.1h0M318.4 624.9h0M320 642.8h0M321.5 625.6h0M323.1 637.6h0M324.6 626.7h0M326.2 630.1h0M327.7 610.4h0M329.3 623.4h0M330.8 624.1h0M332.4 622.6h0M333.9 603.8h0M335.5 634.2h0M337 621.6h0M338.6 621.3h0M340.1 623.3h0M341.7 623.7h0M343.2 630.3h0M344.8 613.2h0M346.3 616.8h0M347.9 629.6h0M349.4 628.2h0M351 622.8h0M352.5 620.9h0M354.1 618.2h0M355.6 626.5h0M357.2 639.8h0M358.7 616.1h0M360.3 643.7h0M361.8 636.6h0M363.4 622.8h0M364.9 636.1h0M366.5 612h0M368 609.2h0M369.6 614h0M371.1 623.6h0M372.7 624.6h0M374.2 622.6h0M375.8 629.3h0M377.3 604.9h0M378.9 633.8h0M380.4 612.8h0M382 621.2h0M383.5 624h0M385.1 615.8h0M386.6 613.5h0M388.2 617.5h0M389.7 628.7h0M391.3 635.5h0M392.8 635.2h0M394.4 617.8h0M395.9 620.1h0M397.5 618.7h0M399 634.2h0M400.6 606h0M402.1 643.3h0M403.7 623.7h0M405.2 620.3h0M406.8 633.2h0M408.3 641.2h0M409.9 633.4h0M411.4 641.6h0M413 631h0M414.5 643.8h0M416.1 644h0M417.6 628.4h0M419.2 646.4h0M420.7 631.6h0M422.3 630.7h0M423.8 618.9h0M425.4 626.3h0M426.9 638.9h0M428.5 614.3h0M430 637.5h0M431.6 634h0M433.1 633.1h0M434.7 603.6h0M436.2 628.7h0M437.8 637.7h0M439.3 620.8h0M440.9 631h0M442.4 601.3h0M444 638.1h0M445.5 622h0M447.1 640.6h0M448.6 607.7h0M450.2 638.5h0M451.7 627.2h0M453.3 640h0M454.8 618.8h0M456.4 622.5h0M457.9 657.7h0M459.5 619.9h0M461 621.5h0M462.6 626.8h0M464.1 617.5h0M465.7 645h0M467.2 651.7h0M468.8 621.5h0M470.3 608.7h0M471.9 645h0M473.4 644.2h0M475 640.6h0M476.5 644.9h0M478.1 619.4h0M479.6 628.2h0M481.2 612.8h0M482.7 612.3h0M484.3 642.9h0M485.8 621.8h0M487.4 659.5h0M488.9 631.3h0M490.5 622.2h0M492 640.7h0M493.6 653.6h0M495.1 636.7h0M496.7 614.6h0M498.2 635.2h0M499.8 648.3h0" stroke="#111" stroke-width="4.9" stroke-linecap="round" fill="none"/>
<path d="M104.5 98 105 99.2 105.5 102.7 106 108.3 106.5 116 107 125.3 107.5 136.1 108 147.8 108.5 160.1 109 172.5 109.5 184.7 110 196.1 110.5 206.3 111 215 111.5 221.9 112 226.7 112.5 229.3 113 229.6 113.5 228.6 114 226.4 114.5 223.2 115 219.1 115.5 214.4 116 209.1 116.5 203.6 117 198 117.5 192.7 118 187.8 118.5 183.5 119 180.2 119.5 177.8 120 176.5 120.5 176.4 121 177.4 121.5 179.5 122 182.6 122.5 186.6 123 191.2 123.5 196.2 124 201.4 124.5 206.5 125 211.2 125.5 215.5 126 218.9 126.5 221.5 127 222.9 127.5 223.3 128 222 128.5 219 129 214.4 129.5 208.3 130 200.7 130.5 192.1 131 182.5 131.5 172.3 132 161.8 132.5 151.2 133 140.8 133.5 130.9 134 121.9 134.5 113.9 135 107.2 135.5 101.9 136 98.3 136.5 96.3 137 96.1 137.5 97.7 138 100.9 138.5 105.6 139 111.8 139.5 119.3 140 127.8 140.5 137 141 146.8 141.5 156.9 142 166.8 142.5 176.4 143 185.4 143.5 193.5 144 200.5 144.5 206.1 145 210.3 145.5 212.8 146 213.7 146.5 213.2 147 211.6 147.5 209 148 205.6 148.5 201.6 149 197.3 149.5 192.8 150 188.5 150.5 184.7 151 181.4 151.5 179 152 177.6 152.5 177.3 153 177.8 153.5 178.9 154 180.5 154.5 182.7 155 185.4 155.5 188.3 156 191.4 156.5 194.5 157 197.5 157.5 200.3 158 202.8 158.5 204.8 159 206.2 159.5 207.1 160 207.3 160.5 206.3 161 204.1 161.5 200.6 162 196 162.5 190.4 163 184 163.5 177.1 164 169.9 164.5 162.6 165 155.5 165.5 148.8 166 142.7 166.5 137.5 167 133.3 167.5 130.3 168 128.5 168.5 128.1 169 128.8 169.5 130.3 170 132.7 170.5 135.9 171 139.8 171.5 144.4 172 149.3 172.5 154.6 173 160.1 173.5 165.7 174 171.1 174.5 176.2 175 180.9 175.5 185.1 176 188.6 176.5 191.3 177 193.2 177.5 194.2 178 194.4 178.5 194.1 179 193.5 179.5 192.6 180 191.5 180.5 190.2 181 188.7 181.5 187.2 182 185.6 182.5 184.1 183 182.6 183.5 181.3 184 180.3 184.5 179.5 185 178.9 185.5 178.7 186 178.8 186.5 179.1 187 179.7 187.5 180.4 188 181.4 188.5 182.4 189 183.6 189.5 184.7 190 185.9 190.5 186.9 191 187.9 191.5 188.6 192 189.2 192.5 189.5 193 189.6 193.5 189.3 194 188.7 194.5 187.8 195 186.5 195.5 184.9 196 183.1 196.5 181 197 178.8 197.5 176.4 198 173.9 198.5 171.5 199 169 199.5 166.6 200 164.3 200.5 162.2 201 160.3 201.5 158.7 202 157.4 202.5 156.3 203 155.7 203.5 155.3 204 155.4 204.5 155.9 205 156.9 205.5 158.3 206 160.1 206.5 162.2 207 164.6 207.5 167.1 208 169.7 208.5 172.2 209 174.7 209.5 177 210 178.9 210.5 180.6 211 181.8 211.5 182.7 212 183 212.5 182.9 213 182.5 213.5 181.9 214 181 214.5 180 215 178.8 215.5 177.5 216 176.2 216.5 174.9 217 173.7 217.5 172.7 218 171.8 218.5 171.3 219 171 219.5 170.9 220 171.1 220.5 171.6 221 172.3 221.5 173.2 222 174.2 222.5 175.4 223 176.6 223.5 178 224 179.3 224.5 180.6 225 181.8 225.5 182.9 226 183.8 226.5 184.5 227 185 227.5 185.3 228 185.3 228.5 185.1 229 184.7 229.5 184.1 230 183.3 230.5 182.3 231 181.3 231.5 180.1 232 178.8 232.5 177.5 233 176.1 233.5 174.8 234 173.6 234.5 172.5 235 171.5 235.5 170.6 236 169.9 236.5 169.4 237 169.2 237.5 169.1 238 169.1 238.5 169.2 239 169.3 239.5 169.5 240 169.6 240.5 169.8 241 170 241.5 170.2 242 170.3 242.5 170.4 243 170.5 243.5 170.5 244 170.5 244.5 170.4 245 170.2 245.5 170 246 169.7 246.5 169.5 247 169.2 247.5 169 248 168.8 248.5 168.6 249 168.5 249.5 168.5 250 168.6 250.5 168.7 251 169 251.5 169.3 252 169.8 252.5 170.3 253 170.9 253.5 171.5 254 172.2 254.5 173 255 173.8 255.5 174.6 256 175.5 256.5 176.4 257 177.3 257.5 178.1 258 179 258.5 179.8 259 180.6 259.5 181.4 260 182.1 260.5 182.7 261 183.2 261.5 183.7 262 184.1 262.5 184.4 263 184.6 263.5 184.8 264 184.8 264.5 184.7 265 184.6 265.5 184.4 266 184.1 266.5 183.8 267 183.4 267.5 182.9 268 182.4 268.5 181.8 269 181.1 269.5 180.4 270 179.7 270.5 178.9 271 178.2 271.5 177.4 272 176.5 272.5 175.7 273 174.9 273.5 174.1 274 173.3 274.5 172.6 275 171.8 275.5 171.1 276 170.5 276.5 169.9 277 169.3 277.5 168.8 278 168.4 278.5 168 279 167.7 279.5 167.5 280 167.4 280.5 167.3 281 167.3 281.5 167.4 282 167.6 282.5 167.9 283 168.2 283.5 168.6 284 169.1 284.5 169.7 285 170.3 285.5 170.9 286 171.7 286.5 172.4 287 173.2 287.5 174 288 174.8 288.5 175.6 289 176.5 289.5 177.3 290 178 290.5 178.8 291 179.5 291.5 180.2 292 180.8 292.5 181.3 293 181.8 293.5 182.2 294 182.5 294.5 182.8 295 182.9 295.5 183 296 183 296.5 182.9 297 182.8 297.5 182.7 298 182.5 298.5 182.2 299 181.9 299.5 181.6 300 181.2 300.5 180.8 301 180.3 301.5 179.8 302 179.3 302.5 178.8 303 178.2 303.5 177.6 304 177 304.5 176.4 305 175.8 305.5 175.2 306 174.6 306.5 174 307 173.4 307.5 172.8 308 172.3 308.5 171.8 309 171.3 309.5 170.8 310 170.4 310.5 170 311 169.7 311.5 169.3 312 169.1 312.5 168.9 313 168.7 313.5 168.6 314 168.5 314.5 168.5 315 168.5 315.5 168.6 316 168.7 316.5 168.8 317 169 317.5 169.2 318 169.5 318.5 169.8 319 170.1 319.5 170.4 320 170.8 320.5 171.2 321 171.6 321.5 172 322 172.5 322.5 173 323 173.4 323.5 173.9 324 174.4 324.5 174.9 325 175.4 325.5 175.9 326 176.3 326.5 176.8 327 177.2 327.5 177.7 328 178.1 328.5 178.5 329 178.8 329.5 179.1 330 179.4 330.5 179.7 331 180 331.5 180.2 332 180.3 332.5 180.4 333 180.5 333.5 180.6 334 180.6 334.5 180.6 335 180.5 335.5 180.4 336 180.2 336.5 180.1 337 179.8 337.5 179.6 338 179.3 338.5 179 339 178.6 339.5 178.3 340 177.9 340.5 177.5 341 177 341.5 176.6 342 176.1 342.5 175.7 343 175.2 343.5 174.7 344 174.3 344.5 173.8 345 173.4 345.5 173 346 172.5 346.5 172.2 347 171.8 347.5 171.5 348 171.1 348.5 170.9 349 170.6 349.5 170.4 350 170.2 350.5 170.1 351 170 351.5 169.9 352 169.9 352.5 169.9 353 170 353.5 170.2 354 170.4 354.5 170.7 355 171 355.5 171.4 356 171.8 356.5 172.3 357 172.8 357.5 173.4 358 173.9 358.5 174.5 359 175.1 359.5 175.8 360 176.4 360.5 177 361 177.6 361.5 178.1 362 178.7 362.5 179.2 363 179.7 363.5 180.1 364 180.5 364.5 180.8 365 181.1 365.5 181.3 366 181.5 366.5 181.6 367 181.6 367.5 181.6 368 181.5 368.5 181.4 369 181.2 369.5 181 370 180.8 370.5 180.5 371 180.1 371.5 179.8 372 179.4 372.5 178.9 373 178.5 373.5 178 374 177.5 374.5 176.9 375 176.4 375.5 175.9 376 175.3 376.5 174.8 377 174.2 377.5 173.7 378 173.1 378.5 172.6 379 172.1 379.5 171.7 380 171.2 380.5 170.8 381 170.4 381.5 170.1 382 169.8 382.5 169.5 383 169.3 383.5 169.1 384 168.9 384.5 168.8 385 168.8 385.5 168.8 386 168.9 386.5 169 387 169.2 387.5 169.5 388 169.8 388.5 170.2 389 170.6 389.5 171.1 390 171.6 390.5 172.2 391 172.8 391.5 173.4 392 174.1 392.5 174.7 393 175.4 393.5 176.1 394 176.8 394.5 177.4 395 178.1 395.5 178.7 396 179.3 396.5 179.9 397 180.4 397.5 180.9 398 181.3 398.5 181.7 399 182 399.5 182.3 400 182.5 400.5 182.6 401 182.7 401.5 182.7 402 182.6 402.5 182.5 403 182.3 403.5 182 404 181.6 404.5 181.2 405 180.7 405.5 180.2 406 179.6 406.5 179 407 178.3 407.5 177.6 408 176.9 408.5 176.2 409 175.5 409.5 174.7 410 174 410.5 173.3 411 172.7 411.5 172 412 171.4 412.5 170.9 413 170.4 413.5 170 414 169.6 414.5 169.3 415 169.1 415.5 168.9 416 168.8 416.5 168.8 417 168.8 417.5 168.9 418 169 418.5 169.2 419 169.4 419.5 169.6 420 169.8 420.5 170.1 421 170.5 421.5 170.8 422 171.2 422.5 171.6 423 172 423.5 172.4 424 172.9 424.5 173.4 425 173.8 425.5 174.3 426 174.8 426.5 175.3 427 175.8 427.5 176.2 428 176.7 428.5 177.1 429 177.6 429.5 178 430 178.4 430.5 178.7 431 179.1 431.5 179.4 432 179.7 432.5 179.9 433 180.1 433.5 180.3 434 180.4 434.5 180.5 435 180.6 435.5 180.6 436 180.6 436.5 180.5 437 180.3 437.5 180.2 438 179.9 438.5 179.6 439 179.3 439.5 178.9 440 178.5 440.5 178 441 177.5 441.5 177 442 176.5 442.5 176 443 175.5 443.5 174.9 444 174.4 444.5 173.9 445 173.4 445.5 172.9 446 172.4 446.5 172 447 171.6 447.5 171.3 448 171 448.5 170.7 449 170.6 449.5 170.4 450 170.3 450.5 170.3 451 170.3 451.5 170.4 452 170.6 452.5 170.7 453 171 453.5 171.3 454 171.6 454.5 172 455 172.4 455.5 172.9 456 173.4 456.5 173.9 457 174.4 457.5 174.9 458 175.4 458.5 176 459 176.5 459.5 177 460 177.5 460.5 178 461 178.5 461.5 178.9 462 179.3 462.5 179.6 463 179.9 463.5 180.2 464 180.3 464.5 180.5 465 180.6 465.5 180.6 466 180.6 466.5 180.5 467 180.4 467.5 180.3 468 180.2 468.5 180 469 179.8 469.5 179.5 470 179.2 470.5 178.9 471 178.6 471.5 178.2 472 177.9 472.5 177.5 473 177.1 473.5 176.7 474 176.3 474.5 175.9 475 175.5 475.5 175.1 476 174.7 476.5 174.3 477 173.9 477.5 173.5 478 173.1 478.5 172.8 479 172.5 479.5 172.2 480 171.9 480.5 171.7 481 171.5 481.5 171.3 482 171.2 482.5 171.1 483 171 483.5 171 484 171 484.5 171 485 171.1 485.5 171.2 486 171.3 486.5 171.4 487 171.6 487.5 171.8 488 172 488.5 172.3 489 172.5 489.5 172.8 490 173.1 490.5 173.4 491 173.7 491.5 174 492 174.3 492.5 174.6 493 175 493.5 175.3 494 175.6 494.5 175.9 495 176.2 495.5 176.5 496 176.8 496.5 177.1 497 177.3 497.5 177.5 498 177.7 498.5 177.9 499 178 499.5 178.2 500 178.3 500.5 178.3 501 178.4 501.5 178.4" stroke="#2020b2" stroke-width="2.4" fill="none" stroke-linejoin="round"/>
<path d="M105.2 236.8 105.7 238 106.2 241.4 106.7 247.1 107.2 254.7 107.7 264.2 108.2 275.1 108.7 287.1 109.2 299.9 109.7 313.1 110.2 326.3 110.7 339 111.2 350.8 111.7 361.5 112.2 370.6 112.7 377.8 113.2 383 113.7 386.1 114.2 386.8 114.7 385.7 115.2 383.1 115.7 379.1 116.2 374.1 116.7 368.2 117.2 361.9 117.7 355.5 118.2 349.5 118.7 344.1 119.2 339.6 119.7 336.5 120.2 334.8 120.7 334.6 121.2 335.7 121.7 338 122.2 341.3 122.7 345.6 123.2 350.5 123.7 355.9 124.2 361.6 124.7 367.2 125.2 372.4 125.7 377.1 126.2 381 126.7 384 127.2 385.8 127.7 386.4 128.2 385.4 128.7 382.2 129.2 377.1 129.7 370.2 130.2 361.7 130.7 351.7 131.2 340.6 131.7 328.8 132.2 316.5 132.7 304.1 133.2 291.9 133.7 280.3 134.2 269.7 134.7 260.2 135.2 252.3 135.7 246.1 136.2 241.8 136.7 239.5 137.2 239.2 137.7 240.9 138.2 244.4 138.7 249.6 139.2 256.3 139.7 264.4 140.2 273.7 140.7 284 141.2 294.9 141.7 306.1 142.2 317.4 142.7 328.5 143.2 339.1 143.7 348.8 144.2 357.4 144.7 364.7 145.2 370.6 145.7 374.7 146.2 377.1 146.7 377.7 147.2 376.9 147.7 375.1 148.2 372.4 148.7 368.8 149.2 364.6 149.7 360.1 150.2 355.4 150.7 350.8 151.2 346.5 151.7 342.8 152.2 339.9 152.7 337.9 153.2 336.9 153.7 336.9 154.2 337.7 154.7 339 155.2 341 155.7 343.4 156.2 346.2 156.7 349.3 157.2 352.5 157.7 355.7 158.2 358.7 158.7 361.4 159.2 363.8 159.7 365.6 160.2 366.8 160.7 367.4 161.2 367.3 161.7 365.9 162.2 363.3 162.7 359.6 163.2 354.9 163.7 349.3 164.2 342.9 164.7 335.9 165.2 328.5 165.7 320.9 166.2 313.3 166.7 305.9 167.2 298.9 167.7 292.5 168.2 286.9 168.7 282.2 169.2 278.5 169.7 275.9 170.2 274.5 170.7 274.4 171.2 275.5 171.7 277.7 172.2 280.9 172.7 285.2 173.2 290.4 173.7 296.3 174.2 302.8 174.7 309.7 175.2 316.8 175.7 323.9 176.2 330.8 176.7 337.4 177.2 343.5 177.7 348.8 178.2 353.3 178.7 356.8 179.2 359.2 179.7 360.5 180.2 360.6 180.7 360.1 181.2 358.8 181.7 357.1 182.2 354.8 182.7 352.2 183.2 349.4 183.7 346.4 184.2 343.6 184.7 340.9 185.2 338.5 185.7 336.7 186.2 335.3 186.7 334.6 187.2 334.5 187.7 335 188.2 336 188.7 337.5 189.2 339.3 189.7 341.5 190.2 343.7 190.7 346 191.2 348.2 191.7 350.2 192.2 351.8 192.7 353 193.2 353.7 193.7 353.9 194.2 353.5 194.7 352.6 195.2 351.1 195.7 349.1 196.2 346.7 196.7 343.9 197.2 340.7 197.7 337.3 198.2 333.7 198.7 330 199.2 326.3 199.7 322.6 200.2 319.1 200.7 315.8 201.2 312.7 201.7 310.1 202.2 307.8 202.7 306.1 203.2 304.8 203.7 304.1 204.2 303.9 204.7 304.4 205.2 305.4 205.7 307.1 206.2 309.3 206.7 312 207.2 315 207.7 318.3 208.2 321.7 208.7 325.2 209.2 328.5 209.7 331.6 210.2 334.5 210.7 336.9 211.2 338.8 211.7 340.1 212.2 340.8 212.7 340.9 213.2 340.7 213.7 340.2 214.2 339.5 214.7 338.6 215.2 337.6 215.7 336.4 216.2 335.1 216.7 333.8 217.2 332.4 217.7 331.1 218.2 329.9 218.7 328.9 219.2 328 219.7 327.3 220.2 326.8 220.7 326.6 221.2 326.7 221.7 327.1 222.2 327.8 222.7 328.9 223.2 330.3 223.7 331.9 224.2 333.7 224.7 335.6 225.2 337.6 225.7 339.5 226.2 341.3 226.7 343 227.2 344.4 227.7 345.6 228.2 346.4 228.7 346.9 229.2 347 229.7 346.5 230.2 345.5 230.7 343.9 231.2 341.8 231.7 339.3 232.2 336.6 232.7 333.7 233.2 330.8 233.7 328 234.2 325.5 234.7 323.3 235.2 321.6 235.7 320.4 236.2 319.9 236.7 319.8 237.2 320 237.7 320.4 238.2 320.9 238.7 321.5 239.2 322.2 239.7 323.1 240.2 324 240.7 325 241.2 325.9 241.7 326.9 242.2 327.8 242.7 328.7 243.2 329.4 243.7 330 244.2 330.5 244.7 330.9 245.2 331.1 245.7 331.1 246.2 330.9 246.7 330.6 247.2 330.1 247.7 329.5 248.2 328.8 248.7 328 249.2 327.1 249.7 326.2 250.2 325.3 250.7 324.4 251.2 323.5 251.7 322.7 252.2 322.1 252.7 321.6 253.2 321.2 253.7 321 254.2 320.9 254.7 321.2 255.2 321.8 255.7 322.8 256.2 324 256.7 325.6 257.2 327.4 257.7 329.4 258.2 331.5 258.7 333.6 259.2 335.8 259.7 337.8 260.2 339.8 260.7 341.5 261.2 343 261.7 344.3 262.2 345.2 262.7 345.7 263.2 345.9 263.7 345.8 264.2 345.7 264.7 345.4 265.2 344.9 265.7 344.4 266.2 343.8 266.7 343.1 267.2 342.3 267.7 341.5 268.2 340.6 268.7 339.7 269.2 338.8 269.7 337.8 270.2 336.9 270.7 336.1 271.2 335.3 271.7 334.5 272.2 333.8 272.7 333.3 273.2 332.8 273.7 332.4 274.2 332.2 274.7 332 275.2 332 275.7 331.9 276.2 331.6 276.7 331.3 277.2 330.8 277.7 330.2 278.2 329.5 278.7 328.8 279.2 328 279.7 327.1 280.2 326.3 280.7 325.4 281.2 324.6 281.7 323.8 282.2 323.1 282.7 322.5 283.2 321.9 283.7 321.5 284.2 321.2 284.7 321 285.2 320.9 285.7 321 286.2 321.2 286.7 321.6 287.2 322.1 287.7 322.8 288.2 323.6 288.7 324.5 289.2 325.5 289.7 326.5 290.2 327.7 290.7 328.9 291.2 330.1 291.7 331.4 292.2 332.7 292.7 333.9 293.2 335.1 293.7 336.2 294.2 337.3 294.7 338.2 295.2 339.1 295.7 339.8 296.2 340.4 296.7 340.9 297.2 341.2 297.7 341.4 298.2 341.4 298.7 341.3 299.2 341.2 299.7 341 300.2 340.8 300.7 340.5 301.2 340.1 301.7 339.7 302.2 339.2 302.7 338.7 303.2 338.1 303.7 337.5 304.2 336.9 304.7 336.2 305.2 335.5 305.7 334.7 306.2 334 306.7 333.2 307.2 332.4 307.7 331.6 308.2 330.8 308.7 330.1 309.2 329.3 309.7 328.5 310.2 327.8 310.7 327.1 311.2 326.4 311.7 325.8 312.2 325.2 312.7 324.6 313.2 324.1 313.7 323.6 314.2 323.2 314.7 322.9 315.2 322.6 315.7 322.3 316.2 322.2 316.7 322 317.2 322 317.7 322 318.2 322.1 318.7 322.3 319.2 322.5 319.7 322.7 320.2 323.1 320.7 323.4 321.2 323.9 321.7 324.4 322.2 324.9 322.7 325.5 323.2 326.1 323.7 326.8 324.2 327.5 324.7 328.2 325.2 329 325.7 329.7 326.2 330.5 326.7 331.3 327.2 332.1 327.7 332.9 328.2 333.7 328.7 334.4 329.2 335.2 329.7 335.9 330.2 336.6 330.7 337.3 331.2 337.9 331.7 338.5 332.2 339 332.7 339.5 333.2 340 333.7 340.3 334.2 340.7 334.7 340.9 335.2 341.1 335.7 341.3 336.2 341.4 336.7 341.4 337.2 341.4 337.7 341.2 338.2 341.1 338.7 340.8 339.2 340.5 339.7 340.1 340.2 339.7 340.7 339.2 341.2 338.7 341.7 338.1 342.2 337.5 342.7 336.8 343.2 336.1 343.7 335.4 344.2 334.6 344.7 333.9 345.2 333.1 345.7 332.3 346.2 331.5 346.7 330.7 347.2 330 347.7 329.2 348.2 328.5 348.7 327.8 349.2 327.1 349.7 326.5 350.2 325.9 350.7 325.4 351.2 324.9 351.7 324.5 352.2 324.1 352.7 323.8 353.2 323.5 353.7 323.4 354.2 323.2 354.7 323.2 355.2 323.2 355.7 323.3 356.2 323.6 356.7 323.9 357.2 324.2 357.7 324.7 358.2 325.3 358.7 325.9 359.2 326.6 359.7 327.3 360.2 328.1 360.7 329 361.2 329.9 361.7 330.9 362.2 331.8 362.7 332.8 363.2 333.8 363.7 334.8 364.2 335.8 364.7 336.8 365.2 337.7 365.7 338.6 366.2 339.5 366.7 340.3 367.2 341.1 367.7 341.8 368.2 342.5 368.7 343.1 369.2 343.6 369.7 344 370.2 344.3 370.7 344.6 371.2 344.7 371.7 344.8 372.2 344.8 372.7 344.6 373.2 344.3 373.7 344 374.2 343.5 374.7 342.9 375.2 342.2 375.7 341.4 376.2 340.6 376.7 339.6 377.2 338.6 377.7 337.6 378.2 336.5 378.7 335.3 379.2 334.1 379.7 333 380.2 331.8 380.7 330.6 381.2 329.5 381.7 328.4 382.2 327.3 382.7 326.3 383.2 325.3 383.7 324.4 384.2 323.6 384.7 322.9 385.2 322.3 385.7 321.8 386.2 321.4 386.7 321.1 387.2 321 387.7 320.9 388.2 321 388.7 321.2 389.2 321.5 389.7 322 390.2 322.6 390.7 323.4 391.2 324.2 391.7 325.1 392.2 326.2 392.7 327.3 393.2 328.5 393.7 329.7 394.2 331 394.7 332.3 395.2 333.7 395.7 335 396.2 336.3 396.7 337.6 397.2 338.8 397.7 340 398.2 341 398.7 342 399.2 343 399.7 343.8 400.2 344.4 400.7 345 401.2 345.4 401.7 345.7 402.2 345.9 402.7 345.9 403.2 345.8 403.7 345.6 404.2 345.2 404.7 344.7 405.2 344.2 405.7 343.5 406.2 342.7 406.7 341.8 407.2 340.9 407.7 339.8 408.2 338.7 408.7 337.6 409.2 336.3 409.7 335.1 410.2 333.8 410.7 332.5 411.2 331.2 411.7 329.9 412.2 328.6 412.7 327.3 413.2 326.1 413.7 324.9 414.2 323.8 414.7 322.7 415.2 321.8 415.7 320.9 416.2 320.1 416.7 319.4 417.2 318.8 417.7 318.3 418.2 317.9 418.7 317.7 419.2 317.5 419.7 317.5 420.2 317.6 420.7 317.9 421.2 318.3 421.7 318.9 422.2 319.5 422.7 320.3 423.2 321.2 423.7 322.2 424.2 323.3 424.7 324.5 425.2 325.8 425.7 327.1 426.2 328.5 426.7 329.9 427.2 331.4 427.7 332.8 428.2 334.3 428.7 335.7 429.2 337.1 429.7 338.4 430.2 339.7 430.7 340.9 431.2 342 431.7 343.1 432.2 344 432.7 344.8 433.2 345.5 433.7 346.1 434.2 346.5 434.7 346.8 435.2 347 435.7 347 436.2 346.9 436.7 346.7 437.2 346.3 437.7 345.9 438.2 345.3 438.7 344.6 439.2 343.8 439.7 343 440.2 342 440.7 341 441.2 339.8 441.7 338.6 442.2 337.4 442.7 336.1 443.2 334.8 443.7 333.4 444.2 332.1 444.7 330.7 445.2 329.3 445.7 327.9 446.2 326.6 446.7 325.3 447.2 324 447.7 322.8 448.2 321.7 448.7 320.6 449.2 319.6 449.7 318.7 450.2 317.9 450.7 317.2 451.2 316.6 451.7 316.1 452.2 315.7 452.7 315.4 453.2 315.2 453.7 315.2 454.2 315.3 454.7 315.6 455.2 316 455.7 316.5 456.2 317.2 456.7 318 457.2 318.9 457.7 320 458.2 321.1 458.7 322.4 459.2 323.7 459.7 325.1 460.2 326.5 460.7 328 461.2 329.5 461.7 331 462.2 332.5 462.7 334 463.2 335.5 463.7 336.9 464.2 338.2 464.7 339.5 465.2 340.7 465.7 341.8 466.2 342.8 466.7 343.6 467.2 344.3 467.7 344.9 468.2 345.4 468.7 345.7 469.2 345.9 469.7 345.9 470.2 345.7 470.7 345.4 471.2 345 471.7 344.4 472.2 343.6 472.7 342.7 473.2 341.7 473.7 340.5 474.2 339.3 474.7 338 475.2 336.5 475.7 335.1 476.2 333.5 476.7 331.9 477.2 330.4 477.7 328.8 478.2 327.2 478.7 325.7 479.2 324.2 479.7 322.7 480.2 321.4 480.7 320.1 481.2 318.9 481.7 317.9 482.2 317 482.7 316.2 483.2 315.5 483.7 315 484.2 314.7 484.7 314.5 485.2 314.5 485.7 314.6 486.2 314.9 486.7 315.3 487.2 315.8 487.7 316.5 488.2 317.2 488.7 318.1 489.2 319.1 489.7 320.2 490.2 321.3 490.7 322.6 491.2 323.9 491.7 325.2 492.2 326.6 492.7 328.1 493.2 329.5 493.7 330.9 494.2 332.4 494.7 333.8 495.2 335.1 495.7 336.5 496.2 337.7 496.7 338.9 497.2 340 497.7 341 498.2 341.9 498.7 342.7 499.2 343.4 499.7 343.9 500.2 344.3 500.7 344.6 501.2 344.8" stroke="#2020b2" stroke-width="2.4" fill="none" stroke-linejoin="round"/>
<path d="M108.5 394 109 394.4 109.5 395.5 110 397.3 110.5 399.8 111 403 111.5 406.7 112 411 112.5 415.7 113 420.7 113.5 426 114 431.4 114.5 436.9 115 442.3 115.5 447.6 116 452.6 116.5 457.3 117 461.6 117.5 465.3 118 468.5 118.5 471 119 472.8 119.5 473.9 120 474.3 120.5 474.2 121 473.8 121.5 473.3 122 472.5 122.5 471.5 123 470.4 123.5 469.1 124 467.6 124.5 466.1 125 464.4 125.5 462.7 126 460.9 126.5 459.2 127 457.4 127.5 455.8 128 454.2 128.5 452.7 129 451.4 129.5 450.2 130 449.2 130.5 448.4 131 447.7 131.5 447.4 132 447.2 132.5 447.3 133 447.7 133.5 448.4 134 449.4 134.5 450.7 135 452.3 135.5 454 136 455.9 136.5 457.9 137 460 137.5 462.2 138 464.3 138.5 466.4 139 468.4 139.5 470.2 140 471.9 140.5 473.3 141 474.5 141.5 475.4 142 476 142.5 476.3 143 476.2 143.5 475.8 144 475.1 144.5 474 145 472.5 145.5 470.7 146 468.6 146.5 466.3 147 463.6 147.5 460.7 148 457.7 148.5 454.4 149 451 149.5 447.5 150 443.9 150.5 440.3 151 436.7 151.5 433.2 152 429.7 152.5 426.3 153 423.1 153.5 420.1 154 417.2 154.5 414.7 155 412.3 155.5 410.3 156 408.6 156.5 407.2 157 406.1 157.5 405.5 158 405.1 158.5 405.2 159 405.6 159.5 406.5 160 407.8 160.5 409.4 161 411.5 161.5 413.8 162 416.5 162.5 419.5 163 422.8 163.5 426.3 164 429.9 164.5 433.7 165 437.6 165.5 441.6 166 445.6 166.5 449.6 167 453.4 167.5 457.2 168 460.9 168.5 464.3 169 467.5 169.5 470.4 170 473.1 170.5 475.4 171 477.3 171.5 478.9 172 480.1 172.5 480.9 173 481.3 173.5 481.2 174 480.9 174.5 480.1 175 479.1 175.5 477.9 176 476.4 176.5 474.7 177 473 177.5 471.2 178 469.5 178.5 467.8 179 466.4 179.5 465.1 180 464.2 180.5 463.5 181 463.2 181.5 463.2 182 463.4 182.5 463.8 183 464.3 183.5 465 184 465.9 184.5 466.8 185 467.9 185.5 469.1 186 470.4 186.5 471.7 187 473.1 187.5 474.4 188 475.8 188.5 477.1 189 478.4 189.5 479.6 190 480.7 190.5 481.6 191 482.5 191.5 483.2 192 483.7 192.5 484.1 193 484.3 193.5 484.3 194 484 194.5 483.5 195 482.8 195.5 481.7 196 480.5 196.5 479 197 477.3 197.5 475.4 198 473.3 198.5 471.1 199 468.8 199.5 466.4 200 463.8 200.5 461.3 201 458.7 201.5 456.2 202 453.6 202.5 451.2 203 448.8 203.5 446.6 204 444.5 204.5 442.6 205 440.8 205.5 439.3 206 438 206.5 436.9 207 436.1 207.5 435.5 208 435.2 208.5 435.2 209 435.4 209.5 435.9 210 436.6 210.5 437.5 211 438.7 211.5 440 212 441.6 212.5 443.3 213 445.2 213.5 447.3 214 449.4 214.5 451.7 215 454.1 215.5 456.5 216 459 216.5 461.5 217 464 217.5 466.4 218 468.8 218.5 471.2 219 473.4 219.5 475.5 220 477.4 220.5 479.3 221 480.9 221.5 482.3 222 483.5 222.5 484.6 223 485.4 223.5 485.9 224 486.2 224.5 486.3 225 486.2 225.5 486 226 485.7 226.5 485.3 227 484.8 227.5 484.2 228 483.5 228.5 482.9 229 482.2 229.5 481.5 230 480.8 230.5 480.2 231 479.6 231.5 479.1 232 478.8 232.5 478.5 233 478.3 233.5 478.3 234 478.4 234.5 478.6 235 478.9 235.5 479.3 236 479.9 236.5 480.5 237 481.2 237.5 481.9 238 482.7 238.5 483.5 239 484.2 239.5 485 240 485.7 240.5 486.4 241 486.9 241.5 487.4 242 487.8 242.5 488.1 243 488.3 243.5 488.3 244 488.2 244.5 488 245 487.6 245.5 487.1 246 486.4 246.5 485.7 247 484.8 247.5 483.8 248 482.8 248.5 481.6 249 480.4 249.5 479.1 250 477.8 250.5 476.5 251 475.1 251.5 473.8 252 472.4 252.5 471.1 253 469.9 253.5 468.6 254 467.5 254.5 466.5 255 465.5 255.5 464.7 256 463.9 256.5 463.3 257 462.8 257.5 462.5 258 462.3 258.5 462.2 259 462.2 259.5 462.4 260 462.6 260.5 463 261 463.4 261.5 463.9 262 464.6 262.5 465.3 263 466 263.5 466.9 264 467.8 264.5 468.7 265 469.7 265.5 470.8 266 471.9 266.5 473 267 474.1 267.5 475.2 268 476.4 268.5 477.5 269 478.6 269.5 479.7 270 480.8 270.5 481.8 271 482.7 271.5 483.6 272 484.5 272.5 485.2 273 485.9 273.5 486.6 274 487.1 274.5 487.5 275 487.9 275.5 488.1 276 488.3 276.5 488.3 277 488.3 277.5 488.2 278 488 278.5 487.7 279 487.5 279.5 487.1 280 486.8 280.5 486.5 281 486.1 281.5 485.9 282 485.6 282.5 485.4 283 485.3 283.5 485.3 284 485.3 284.5 485.4 285 485.6 285.5 485.8 286 486 286.5 486.3 287 486.6 287.5 486.9 288 487.2 288.5 487.5 289 487.8 289.5 488.1 290 488.3 290.5 488.5 291 488.7 291.5 488.8 292 488.8 292.5 488.8 293 488.7 293.5 488.7 294 488.6 294.5 488.5 295 488.3 295.5 488.2 296 488 296.5 487.8 297 487.6 297.5 487.3 298 487.1 298.5 486.8 299 486.6 299.5 486.3 300 486.1 300.5 485.8 301 485.5 301.5 485.3 302 485 302.5 484.8 303 484.5 303.5 484.3 304 484.1 304.5 483.9 305 483.8 305.5 483.6 306 483.5 306.5 483.4 307 483.4 307.5 483.3 308 483.3 308.5 483.3 309 483.3 309.5 483.4 310 483.5 310.5 483.6 311 483.7 311.5 483.8 312 484 312.5 484.1 313 484.3 313.5 484.5 314 484.7 314.5 484.9 315 485.1 315.5 485.2 316 485.4 316.5 485.6 317 485.8 317.5 486 318 486.1 318.5 486.3 319 486.4 319.5 486.5 320 486.6 320.5 486.7 321 486.8 321.5 486.8 322 486.8 322.5 486.8 323 486.8 323.5 486.8 324 486.7 324.5 486.7 325 486.6 325.5 486.6 326 486.5 326.5 486.4 327 486.3 327.5 486.2 328 486.1 328.5 486.1 329 486 329.5 485.9 330 485.8 330.5 485.7 331 485.6 331.5 485.6 332 485.5 332.5 485.4 333 485.4 333.5 485.4 334 485.3 334.5 485.3 335 485.3 335.5 485.3 336 485.3 336.5 485.4 337 485.4 337.5 485.5 338 485.6 338.5 485.8 339 485.9 339.5 486.1 340 486.2 340.5 486.4 341 486.6 341.5 486.9 342 487.1 342.5 487.4 343 487.6 343.5 487.9 344 488.2 344.5 488.5 345 488.8 345.5 489.2 346 489.5 346.5 489.8 347 490.2 347.5 490.5 348 490.8 348.5 491.2 349 491.5 349.5 491.9 350 492.2 350.5 492.6 351 492.9 351.5 493.2 352 493.6 352.5 493.9 353 494.2 353.5 494.5 354 494.8 354.5 495.1 355 495.3 355.5 495.6 356 495.8 356.5 496 357 496.2 357.5 496.4 358 496.6 358.5 496.8 359 496.9 359.5 497 360 497.1 360.5 497.2 361 497.2 361.5 497.3 362 497.3 362.5 497.3 363 497.3 363.5 497.2 364 497.1 364.5 497 365 496.8 365.5 496.7 366 496.5 366.5 496.2 367 496 367.5 495.7 368 495.4 368.5 495.1 369 494.7 369.5 494.4 370 494 370.5 493.6 371 493.2 371.5 492.8 372 492.3 372.5 491.9 373 491.4 373.5 491 374 490.5 374.5 490.1 375 489.6 375.5 489.2 376 488.7 376.5 488.3 377 487.8 377.5 487.4 378 487 378.5 486.6 379 486.2 379.5 485.9 380 485.5 380.5 485.2 381 484.9 381.5 484.6 382 484.4 382.5 484.1 383 483.9 383.5 483.8 384 483.6 384.5 483.5 385 483.4 385.5 483.3 386 483.3 386.5 483.3 387 483.3 387.5 483.4 388 483.5 388.5 483.6 389 483.8 389.5 484 390 484.3 390.5 484.5 391 484.8 391.5 485.2 392 485.5 392.5 485.9 393 486.3 393.5 486.7 394 487.2 394.5 487.7 395 488.2 395.5 488.7 396 489.2 396.5 489.8 397 490.3 397.5 490.9 398 491.5 398.5 492.1 399 492.6 399.5 493.2 400 493.8 400.5 494.4 401 495 401.5 495.5 402 496.1 402.5 496.7 403 497.2 403.5 497.7 404 498.2 404.5 498.7 405 499.2 405.5 499.6 406 500 406.5 500.4 407 500.8 407.5 501.1 408 501.4 408.5 501.7 409 501.9 409.5 502.2 410 502.3 410.5 502.5 411 502.6 411.5 502.7 412 502.7 412.5 502.7 413 502.7 413.5 502.6 414 502.4 414.5 502.3 415 502 415.5 501.8 416 501.5 416.5 501.1 417 500.8 417.5 500.3 418 499.9 418.5 499.4 419 498.9 419.5 498.3 420 497.7 420.5 497.1 421 496.5 421.5 495.9 422 495.2 422.5 494.6 423 493.9 423.5 493.2 424 492.5 424.5 491.8 425 491.1 425.5 490.4 426 489.7 426.5 489 427 488.4 427.5 487.7 428 487.1 428.5 486.5 429 485.9 429.5 485.3 430 484.8 430.5 484.3 431 483.8 431.5 483.4 432 483 432.5 482.7 433 482.3 433.5 482.1 434 481.8 434.5 481.6 435 481.5 435.5 481.4 436 481.3 436.5 481.3 437 481.3 437.5 481.4 438 481.5 438.5 481.7 439 481.9 439.5 482.1 440 482.4 440.5 482.7 441 483 441.5 483.4 442 483.8 442.5 484.3 443 484.7 443.5 485.3 444 485.8 444.5 486.4 445 486.9 445.5 487.6 446 488.2 446.5 488.8 447 489.5 447.5 490.2 448 490.9 448.5 491.6 449 492.3 449.5 493 450 493.7 450.5 494.4 451 495.1 451.5 495.9 452 496.6 452.5 497.2 453 497.9 453.5 498.6 454 499.2 454.5 499.9 455 500.5 455.5 501.1 456 501.6 456.5 502.2 457 502.7 457.5 503.1 458 503.6 458.5 504 459 504.4 459.5 504.7 460 505 460.5 505.3 461 505.5 461.5 505.7 462 505.8 462.5 505.9 463 506 463.5 506 464 506 464.5 505.9 465 505.8 465.5 505.6 466 505.4 466.5 505.2 467 504.9 467.5 504.6 468 504.2 468.5 503.8 469 503.3 469.5 502.9 470 502.4 470.5 501.8 471 501.2 471.5 500.6 472 500 472.5 499.4 473 498.7 473.5 498 474 497.3 474.5 496.6 475 495.9 475.5 495.2 476 494.4 476.5 493.7 477 493 477.5 492.2 478 491.5 478.5 490.8 479 490.1 479.5 489.5 480 488.8 480.5 488.2 481 487.6 481.5 487 482 486.5 482.5 485.9 483 485.4 483.5 485 484 484.6 484.5 484.2 485 483.9 485.5 483.6 486 483.3 486.5 483.1 487 482.9 487.5 482.8 488 482.7 488.5 482.7 489 482.7 489.5 482.9 490 483.1 490.5 483.4 491 483.7 491.5 484.2 492 484.7 492.5 485.3 493 486 493.5 486.7 494 487.4 494.5 488.2 495 488.9 495.5 489.7 496 490.4 496.5 491.2 497 491.9 497.5 492.5 498 493.1 498.5 493.7 499 494.2 499.5 494.6 500 494.9 500.5 495.1 501 495.3 501.5 495.3" stroke="#2020b2" stroke-width="2.4" fill="none" stroke-linejoin="round"/>
<path d="M112.3 517.8 112.8 518.9 113.3 520 113.8 521.1 114.3 522.2 114.8 523.3 115.3 524.3 115.8 525.3 116.3 526.3 116.8 527.3 117.3 528.3 117.8 529.2 118.3 530.1 118.8 531 119.3 531.9 119.8 532.7 120.3 533.5 120.8 534.3 121.3 535 121.8 535.8 122.3 536.6 122.8 537.3 123.3 538 123.8 538.7 124.3 539.4 124.8 540.1 125.3 540.8 125.8 541.4 126.3 542.1 126.8 542.7 127.3 543.3 127.8 543.9 128.3 544.5 128.8 545 129.3 545.6 129.8 546.1 130.3 546.6 130.8 547.1 131.3 547.6 131.8 548 132.3 548.5 132.8 548.9 133.3 549.4 133.8 549.8 134.3 550.2 134.8 550.7 135.3 551.1 135.8 551.5 136.3 551.9 136.8 552.3 137.3 552.6 137.8 553 138.3 553.4 138.8 553.7 139.3 554.1 139.8 554.5 140.3 554.8 140.8 555.2 141.3 555.5 141.8 555.9 142.3 556.2 142.8 556.5 143.3 556.9 143.8 557.2 144.3 557.5 144.8 557.9 145.3 558.2 145.8 558.5 146.3 558.9 146.8 559.2 147.3 559.5 147.8 559.8 148.3 560.1 148.8 560.4 149.3 560.7 149.8 561 150.3 561.4 150.8 561.7 151.3 562 151.8 562.2 152.3 562.5 152.8 562.8 153.3 563.1 153.8 563.4 154.3 563.7 154.8 564 155.3 564.3 155.8 564.5 156.3 564.8 156.8 565.1 157.3 565.4 157.8 565.7 158.3 565.9 158.8 566.2 159.3 566.5 159.8 566.7 160.3 567 160.8 567.3 161.3 567.5 161.8 567.8 162.3 568.1 162.8 568.3 163.3 568.6 163.8 568.9 164.3 569.1 164.8 569.4 165.3 569.7 165.8 569.9 166.3 570.2 166.8 570.5 167.3 570.7 167.8 571 168.3 571.2 168.8 571.5 169.3 571.8 169.8 572 170.3 572.3 170.8 572.6 171.3 572.8 171.8 573.1 172.3 573.3 172.8 573.6 173.3 573.8 173.8 574.1 174.3 574.4 174.8 574.6 175.3 574.9 175.8 575.1 176.3 575.4 176.8 575.6 177.3 575.9 177.8 576.1 178.3 576.4 178.8 576.6 179.3 576.9 179.8 577.1 180.3 577.4 180.8 577.6 181.3 577.9 181.8 578.1 182.3 578.3 182.8 578.6 183.3 578.8 183.8 579.1 184.3 579.3 184.8 579.6 185.3 579.8 185.8 580 186.3 580.3 186.8 580.5 187.3 580.7 187.8 581 188.3 581.2 188.8 581.4 189.3 581.7 189.8 581.9 190.3 582.1 190.8 582.4 191.3 582.6 191.8 582.8 192.3 583.1 192.8 583.3 193.3 583.5 193.8 583.7 194.3 583.9 194.8 584.2 195.3 584.4 195.8 584.6 196.3 584.8 196.8 585.1 197.3 585.3 197.8 585.5 198.3 585.7 198.8 585.9 199.3 586.1 199.8 586.4 200.3 586.6 200.8 586.8 201.3 587 201.8 587.2 202.3 587.4 202.8 587.6 203.3 587.8 203.8 588.1 204.3 588.3 204.8 588.5 205.3 588.7 205.8 588.9 206.3 589.1 206.8 589.3 207.3 589.5 207.8 589.8 208.3 590 208.8 590.2 209.3 590.4 209.8 590.6 210.3 590.8 210.8 591 211.3 591.2 211.8 591.4 212.3 591.7 212.8 591.9 213.3 592.1 213.8 592.3 214.3 592.5 214.8 592.7 215.3 592.9 215.8 593.2 216.3 593.4 216.8 593.6 217.3 593.8 217.8 594 218.3 594.2 218.8 594.4 219.3 594.7 219.8 594.9 220.3 595.1 220.8 595.3 221.3 595.5 221.8 595.7 222.3 595.9 222.8 596.1 223.3 596.3 223.8 596.5 224.3 596.8 224.8 597 225.3 597.2 225.8 597.4 226.3 597.6 226.8 597.8 227.3 598 227.8 598.2 228.3 598.4 228.8 598.6 229.3 598.8 229.8 599 230.3 599.2 230.8 599.4 231.3 599.6 231.8 599.8 232.3 600 232.8 600.2 233.3 600.4 233.8 600.5 234.3 600.7 234.8 600.9 235.3 601.1 235.8 601.3 236.3 601.5 236.8 601.7 237.3 601.8 237.8 602 238.3 602.2 238.8 602.4 239.3 602.6 239.8 602.8 240.3 602.9 240.8 603.1 241.3 603.3 241.8 603.5 242.3 603.6 242.8 603.8 243.3 604 243.8 604.2 244.3 604.4 244.8 604.5 245.3 604.7 245.8 604.9 246.3 605 246.8 605.2 247.3 605.4 247.8 605.6 248.3 605.7 248.8 605.9 249.3 606.1 249.8 606.2 250.3 606.4 250.8 606.6 251.3 606.7 251.8 606.9 252.3 607.1 252.8 607.2 253.3 607.4 253.8 607.6 254.3 607.7 254.8 607.9 255.3 608.1 255.8 608.2 256.3 608.4 256.8 608.5 257.3 608.7 257.8 608.9 258.3 609 258.8 609.2 259.3 609.3 259.8 609.5 260.3 609.6 260.8 609.8 261.3 610 261.8 610.1 262.3 610.3 262.8 610.4 263.3 610.6 263.8 610.7 264.3 610.9 264.8 611 265.3 611.2 265.8 611.3 266.3 611.5 266.8 611.6 267.3 611.8 267.8 611.9 268.3 612.1 268.8 612.2 269.3 612.4 269.8 612.5 270.3 612.7 270.8 612.8 271.3 613 271.8 613.1 272.3 613.3 272.8 613.4 273.3 613.6 273.8 613.7 274.3 613.9 274.8 614 275.3 614.2 275.8 614.3 276.3 614.5 276.8 614.6 277.3 614.8 277.8 614.9 278.3 615 278.8 615.2 279.3 615.3 279.8 615.5 280.3 615.6 280.8 615.7 281.3 615.9 281.8 616 282.3 616.1 282.8 616.3 283.3 616.4 283.8 616.5 284.3 616.6 284.8 616.8 285.3 616.9 285.8 617 286.3 617.1 286.8 617.3 287.3 617.4 287.8 617.5 288.3 617.6 288.8 617.7 289.3 617.8 289.8 618 290.3 618.1 290.8 618.2 291.3 618.3 291.8 618.4 292.3 618.5 292.8 618.6 293.3 618.7 293.8 618.8 294.3 618.9 294.8 619 295.3 619.1 295.8 619.2 296.3 619.3 296.8 619.4 297.3 619.5 297.8 619.6 298.3 619.7 298.8 619.8 299.3 619.9 299.8 620 300.3 620.1 300.8 620.2 301.3 620.3 301.8 620.4 302.3 620.5 302.8 620.6 303.3 620.7 303.8 620.8 304.3 620.9 304.8 620.9 305.3 621 305.8 621.1 306.3 621.2 306.8 621.3 307.3 621.4 307.8 621.5 308.3 621.6 308.8 621.6 309.3 621.7 309.8 621.8 310.3 621.9 310.8 622 311.3 622.1 311.8 622.1 312.3 622.2 312.8 622.3 313.3 622.4 313.8 622.5 314.3 622.5 314.8 622.6 315.3 622.7 315.8 622.8 316.3 622.8 316.8 622.9 317.3 623 317.8 623.1 318.3 623.1 318.8 623.2 319.3 623.3 319.8 623.3 320.3 623.4 320.8 623.5 321.3 623.6 321.8 623.6 322.3 623.7 322.8 623.8 323.3 623.8 323.8 623.9 324.3 624 324.8 624 325.3 624.1 325.8 624.2 326.3 624.2 326.8 624.3 327.3 624.4 327.8 624.4 328.3 624.5 328.8 624.6 329.3 624.6 329.8 624.7 330.3 624.7 330.8 624.8 331.3 624.9 331.8 624.9 332.3 625 332.8 625 333.3 625.1 333.8 625.2 334.3 625.2 334.8 625.3 335.3 625.3 335.8 625.4 336.3 625.5 336.8 625.5 337.3 625.6 337.8 625.6 338.3 625.7 338.8 625.7 339.3 625.8 339.8 625.8 340.3 625.9 340.8 625.9 341.3 626 341.8 626 342.3 626.1 342.8 626.1 343.3 626.2 343.8 626.2 344.3 626.2 344.8 626.3 345.3 626.3 345.8 626.4 346.3 626.4 346.8 626.4 347.3 626.5 347.8 626.5 348.3 626.6 348.8 626.6 349.3 626.7 349.8 626.7 350.3 626.7 350.8 626.8 351.3 626.8 351.8 626.8 352.3 626.9 352.8 626.9 353.3 627 353.8 627 354.3 627 354.8 627.1 355.3 627.1 355.8 627.1 356.3 627.2 356.8 627.2 357.3 627.2 357.8 627.3 358.3 627.3 358.8 627.3 359.3 627.4 359.8 627.4 360.3 627.4 360.8 627.5 361.3 627.5 361.8 627.5 362.3 627.6 362.8 627.6 363.3 627.6 363.8 627.7 364.3 627.7 364.8 627.7 365.3 627.7 365.8 627.8 366.3 627.8 366.8 627.8 367.3 627.9 367.8 627.9 368.3 627.9 368.8 627.9 369.3 628 369.8 628 370.3 628 370.8 628 371.3 628.1 371.8 628.1 372.3 628.1 372.8 628.1 373.3 628.2 373.8 628.2 374.3 628.2 374.8 628.2 375.3 628.2 375.8 628.3 376.3 628.3 376.8 628.3 377.3 628.3 377.8 628.3 378.3 628.4 378.8 628.4 379.3 628.4 379.8 628.4 380.3 628.4 380.8 628.5 381.3 628.5 381.8 628.5 382.3 628.5 382.8 628.5 383.3 628.6 383.8 628.6 384.3 628.6 384.8 628.6 385.3 628.6 385.8 628.7 386.3 628.7 386.8 628.7 387.3 628.7 387.8 628.7 388.3 628.7 388.8 628.8 389.3 628.8 389.8 628.8 390.3 628.8 390.8 628.8 391.3 628.9 391.8 628.9 392.3 628.9 392.8 628.9 393.3 628.9 393.8 628.9 394.3 629 394.8 629 395.3 629 395.8 629 396.3 629 396.8 629 397.3 629.1 397.8 629.1 398.3 629.1 398.8 629.1 399.3 629.1 399.8 629.1 400.3 629.1 400.8 629.2 401.3 629.2 401.8 629.2 402.3 629.2 402.8 629.2 403.3 629.2 403.8 629.3 404.3 629.3 404.8 629.3 405.3 629.3 405.8 629.3 406.3 629.3 406.8 629.3 407.3 629.4 407.8 629.4 408.3 629.4 408.8 629.4 409.3 629.4 409.8 629.4 410.3 629.4 410.8 629.4 411.3 629.5 411.8 629.5 412.3 629.5 412.8 629.5 413.3 629.5 413.8 629.5 414.3 629.5 414.8 629.5 415.3 629.5 415.8 629.6 416.3 629.6 416.8 629.6 417.3 629.6 417.8 629.6 418.3 629.6 418.8 629.6 419.3 629.6 419.8 629.6 420.3 629.7 420.8 629.7 421.3 629.7 421.8 629.7 422.3 629.7 422.8 629.7 423.3 629.7 423.8 629.7 424.3 629.7 424.8 629.7 425.3 629.7 425.8 629.7 426.3 629.8 426.8 629.8 427.3 629.8 427.8 629.8 428.3 629.8 428.8 629.8 429.3 629.8 429.8 629.8 430.3 629.8 430.8 629.8 431.3 629.8 431.8 629.8 432.3 629.8 432.8 629.8 433.3 629.9 433.8 629.9 434.3 629.9 434.8 629.9 435.3 629.9 435.8 629.9 436.3 629.9 436.8 629.9 437.3 629.9 437.8 629.9 438.3 629.9 438.8 629.9 439.3 629.9 439.8 629.9 440.3 629.9 440.8 629.9 441.3 630 441.8 630 442.3 630 442.8 630 443.3 630 443.8 630 444.3 630 444.8 630 445.3 630 445.8 630 446.3 630 446.8 630 447.3 630 447.8 630 448.3 630 448.8 630 449.3 630.1 449.8 630.1 450.3 630.1 450.8 630.1 451.3 630.1 451.8 630.1 452.3 630.1 452.8 630.1 453.3 630.1 453.8 630.1 454.3 630.1 454.8 630.1 455.3 630.1 455.8 630.1 456.3 630.1 456.8 630.1 457.3 630.1 457.8 630.1 458.3 630.2 458.8 630.2 459.3 630.2 459.8 630.2 460.3 630.2 460.8 630.2 461.3 630.2 461.8 630.2 462.3 630.2 462.8 630.2 463.3 630.2 463.8 630.2 464.3 630.2 464.8 630.2 465.3 630.2 465.8 630.2 466.3 630.2 466.8 630.2 467.3 630.2 467.8 630.2 468.3 630.2 468.8 630.2 469.3 630.3 469.8 630.3 470.3 630.3 470.8 630.3 471.3 630.3 471.8 630.3 472.3 630.3 472.8 630.3 473.3 630.3 473.8 630.3 474.3 630.3 474.8 630.3 475.3 630.3 475.8 630.3 476.3 630.3 476.8 630.3 477.3 630.3 477.8 630.3 478.3 630.3 478.8 630.3 479.3 630.3 479.8 630.3 480.3 630.3 480.8 630.3 481.3 630.3 481.8 630.3 482.3 630.3 482.8 630.3 483.3 630.4 483.8 630.4 484.3 630.4 484.8 630.4 485.3 630.4 485.8 630.4 486.3 630.4 486.8 630.4 487.3 630.4 487.8 630.4 488.3 630.4 488.8 630.4 489.3 630.4 489.8 630.4 490.3 630.4 490.8 630.4 491.3 630.4 491.8 630.4 492.3 630.4 492.8 630.4 493.3 630.4 493.8 630.4 494.3 630.4 494.8 630.4 495.3 630.4 495.8 630.4 496.3 630.4 496.8 630.4 497.3 630.4 497.8 630.4 498.3 630.4 498.8 630.4 499.3 630.4 499.8 630.4 500.3 630.4 500.8 630.4 501.3 630.4" stroke="#2020b2" stroke-width="2.4" fill="none" stroke-linejoin="round"/>
</g>
<rect x="103" y="83" width="398.5" height="586.5" fill="none" stroke="#6b6b6b" stroke-width="1.5"/>
<path d="M103 84h5M103 147h5M103 210h5M103 295h5M103 372h5M103 446h5M103 115.5h3M103 178h3M103 335h3M103 398.4h3M103 493.6h3M103 544h3M103 585.7h3M103 627.3h3M103 585.7h5M103.7 669.5v-6M136.8 669.5v-3.5M170 669.5v-6M203.1 669.5v-3.5M236.3 669.5v-6M269.4 669.5v-3.5M302.6 669.5v-6M335.8 669.5v-3.5M368.9 669.5v-6M402 669.5v-3.5M435.2 669.5v-6M468.3 669.5v-3.5M501.5 669.5v-6" stroke="#555" stroke-width="1.2" fill="none"/>
<text x="98.6" y="91" font-size="26.8" text-anchor="end" font-family="'Liberation Sans', sans-serif" >0.10</text>
<text x="98.4" y="154.8" font-size="26.8" text-anchor="end" font-family="'Liberation Sans', sans-serif" >0.05</text>
<text x="98.4" y="217.5" font-size="26.8" text-anchor="end" font-family="'Liberation Sans', sans-serif" >0.00</text>
<text x="97.8" y="305" font-size="28.2" text-anchor="end" font-family="'Liberation Sans', sans-serif" >0.05</text>
<text x="97.8" y="381.3" font-size="28.2" text-anchor="end" font-family="'Liberation Sans', sans-serif" >0.00</text>
<text x="99" y="454.6" font-size="29" text-anchor="end" font-family="'Liberation Sans', sans-serif" >0.05</text>
<text x="98.2" y="594.3" font-size="28.8" text-anchor="end" font-family="'Liberation Sans', sans-serif" >0.06</text>
<text x="98.2" y="678" font-size="28.8" text-anchor="end" font-family="'Liberation Sans', sans-serif" >0.00</text>
<text x="103.5" y="696" font-size="23" text-anchor="middle" font-family="'Liberation Sans', sans-serif" >0</text>
<text x="169.8" y="696" font-size="23" text-anchor="middle" font-family="'Liberation Sans', sans-serif" >50</text>
<text x="236.1" y="696" font-size="23" text-anchor="middle" font-family="'Liberation Sans', sans-serif" >100</text>
<text x="302.4" y="696" font-size="23" text-anchor="middle" font-family="'Liberation Sans', sans-serif" >150</text>
<text x="368.7" y="696" font-size="23" text-anchor="middle" font-family="'Liberation Sans', sans-serif" >200</text>
<text x="435" y="696" font-size="23" text-anchor="middle" font-family="'Liberation Sans', sans-serif" >250</text>
<text x="501.3" y="696" font-size="23" text-anchor="middle" font-family="'Liberation Sans', sans-serif" >300</text>
<text x="309.5" y="728.5" font-size="33.5" text-anchor="middle" font-family="'Liberation Sans', sans-serif" >t(ns)</text>
<text transform="translate(31.5 358) rotate(-90)" font-size="34" text-anchor="middle" font-family="'Liberation Sans', sans-serif" >-R(t)</text>
<text x="116.8" y="60" font-size="52" text-anchor="start" font-family="'Liberation Sans', sans-serif" >(a)</text>
<text x="292.7" y="120" font-size="25.5" text-anchor="start" font-family="'Liberation Sans', sans-serif" >10K</text>
<text x="356.5" y="273.5" font-size="27.5" text-anchor="end" font-family="'Liberation Sans', sans-serif" >100 K</text>
<text x="361" y="426.5" font-size="28.5" text-anchor="end" font-family="'Liberation Sans', sans-serif" >255 K</text>
<text x="292.5" y="582.3" font-size="28" text-anchor="start" font-family="'Liberation Sans', sans-serif" >290 K</text>
<rect x="630.5" y="98.5" width="248.5" height="560.0" fill="#B4E3FC"/>
<g clip-path="url(#clipB)">
<path d="M630.5 250.8 L630.5 248.2 L634.6 248.2 L638.7 247.1 L641.6 249.9 L644.5 248.2 L646.6 248.8 L649.8 250.3 L653.5 249.8 L656.5 248.8 L659.4 250.4 L662 248.9 L664.6 246.4 L668.7 250.8 L672.3 249.2 L674.9 248.5 L679.1 249.1 L681.3 250.8 L685 249.3 L688.6 244.5 L692 249.3 L697 242 L701 241 L704 248.8 L705.5 248.8 L708 232 L710.5 205 L714.3 181 L717 195 L720.5 212.7 L724.3 194.5 L727 205 L730 226 L733 242 L736.4 249.8 L739.6 247.4 L743.7 248.4 L746.8 249.5 L749.7 247.4 L751.8 247.2 L755.8 250.8 L759.7 249.7 L762.3 248.5 L764.7 250.8 L766.9 247.6 L768 249.3 L772.7 242.7 L776 245 L781.8 242 L786 249.3 L786.3 248.2 L789.2 247.2 L790.5 248.8 L795 238 L799 222 L802.5 200 L805.7 187.7 L808.5 198 L811.8 209.3 L815 221 L818.5 238 L822.7 249.8 L823.8 250.8 L826.3 247.7 L829 249.9 L832.2 247.9 L835.9 248.3 L839.6 250.5 L843.6 250.7 L846.7 250.8 L849.8 246.1 L852.1 249 L855.8 249.7 L859.5 248.1 L861.9 250.8 L864.7 250 L868.6 250.6 L871.5 245.8 L875.3 248.6 L879 249.8 L879 250.8 Z" fill="url(#hatchB)" stroke="#5a5f66" stroke-width="1" stroke-linejoin="round"/>
<path d="M630.5 390.7 L630.5 388.6 L632 387.7 L638.5 380.7 L643 386 L646 384 L650.9 382.8 L654 386 L657.1 379.7 L660.5 388 L665.4 385 L668 389.7 L670.5 385.2 L674 390.7 L676.3 387.4 L680.2 387 L684.1 388.5 L687 389.2 L690.3 390.7 L693.2 388.5 L696.6 390.3 L699.7 389.9 L702.4 389.3 L704 389.7 L707 370 L710 340 L714.5 318.5 L717.5 332 L721.3 346.5 L725.5 345 L729 352 L732 368 L735.8 389.7 L736.9 386.2 L740.6 390.2 L743.9 389 L748.1 390.5 L751.6 388.3 L753.7 389.4 L757.7 387.3 L759.7 390.3 L761.8 390.5 L764 386.8 L768.2 390.4 L770.9 390.1 L773.7 390.4 L776.9 388.8 L779.2 390.2 L782.2 390.4 L785.5 389.4 L789.5 387.3 L791.7 384.5 L791.8 389.7 L796 372 L800 357 L803.5 340 L806.7 327.9 L810 338 L813.5 344 L816.5 360 L820 378 L823.9 389.7 L824.3 390.1 L828 389.9 L832.2 390 L836 389.7 L840.5 386 L844 387 L848.7 381.3 L852 389.7 L854.6 388.3 L856.8 387.7 L860.9 385.8 L864.3 386.9 L867.9 388.1 L870.9 389.8 L874.3 389.5 L878.2 387.6 L879 389.7 L879 390.7 Z" fill="url(#hatchB)" stroke="#5a5f66" stroke-width="1" stroke-linejoin="round"/>
<path d="M630.5 526 L630.5 472 L632 445 L634 432.1 L636 448 L638 465.2 L641 488 L644 507.3 L647 513.3 L652 510.3 L655 517.3 L661 507.3 L665 515.3 L669 506.3 L674 506.9 L677 503.3 L680 490 L683 474 L685.5 466.2 L688 478 L691.2 503.3 L695.2 513.3 L700.8 510.9 L707.2 518.9 L711.2 515.7 L714.2 520.3 L718.2 514.9 L723.2 516.3 L728.2 513.3 L733.3 515.3 L735.5 508 L737.3 498.3 L740 499 L743.3 494.9 L746 502 L749 513 L753.3 524.3 L757 525 L761.3 518.3 L765 525 L765.7 523.7 L769.2 525.7 L772.7 522 L776 525.3 L779.5 523.9 L782.7 526 L785.8 524.3 L788.9 523 L792.6 524.9 L794.6 524.7 L797.1 525.7 L799.9 524.5 L803.9 523.9 L806.7 521.8 L809.8 526 L813 525.3 L816.2 526 L820.3 522.5 L823.9 526 L827.7 524.2 L830.8 520.9 L833.4 523 L836.1 521.4 L839.3 522 L842.3 524.6 L845.9 521.8 L848.2 524.8 L851.1 523.5 L853.9 525.9 L857.9 520.2 L860.2 525.3 L863 526 L866.2 522.9 L868.4 523.8 L871.9 524.1 L876.1 524.8 L879 525 L879 526 Z" fill="url(#hatchB)" stroke="#5a5f66" stroke-width="1" stroke-linejoin="round"/>
<path d="M630.5 658.5 L630.5 556 L632.8 556 L633.7 578.2 L635.7 607.2 L638.6 634.4 L640.5 645 L642.4 648 L644 645 L646.3 650 L648.5 646.5 L651 652 L653.5 649 L656 654 L658 651 L661 655 L664 652 L667 656 L670 653.5 L673 656.5 L676 654 L679 657 L680.7 658.5 L683.9 656.5 L688 655.2 L691.5 658.2 L693.9 655.2 L697.6 655.6 L700.7 658 L703 658.2 L707.1 657.2 L710 653.4 L712.1 657.3 L715.3 658.4 L717.9 656.8 L720.6 658.5 L723.6 657.4 L726.5 655.4 L730.2 655 L733.1 656.9 L737.1 658.5 L739.3 658.1 L742.6 653.4 L745.8 658.5 L749.3 657.4 L752.9 658.2 L756.3 658.5 L759.4 658.5 L762.8 655.5 L766.1 658.5 L768.6 657.8 L771.5 658.5 L773.7 658.1 L776.8 656.8 L780.1 654.7 L783.4 658.5 L785.7 654.9 L788.4 656.9 L791.5 657 L795.2 655.5 L797.8 655.5 L800.7 656 L804.5 654.6 L807.9 656.5 L810.5 656.8 L814.5 654.8 L817.7 658.4 L820.5 658.5 L823.8 657.1 L827.2 653 L829.4 656.6 L833.5 655 L836.3 657 L840 654.8 L843.7 655.6 L847.8 658.5 L851.9 658.5 L855.1 654.6 L859.3 654.7 L863.1 656.9 L866.8 656.7 L870.8 657.3 L873.7 655.8 L875.8 658.1 L879 657.5 L879 658.5 Z" fill="url(#hatchB)" stroke="#5a5f66" stroke-width="1" stroke-linejoin="round"/>
</g>
<path d="M630.5 250.8H879M630.5 390.7H879M630.5 526H879" stroke="#7a8590" stroke-width="1.4" fill="none"/>
<rect x="630.5" y="98.5" width="248.5" height="560.0" fill="none" stroke="#6a747e" stroke-width="1.7"/>
<path d="M630.5 148.7h4M630.5 289h4M630.5 424.5h4M630.5 557h4M630.5 199.8h2.5M630.5 340.3h2.5M630.5 475.3h2.5M630.5 607.5h2.5M719.3 250.8v3 M807.7 250.8v3M754.7 658.5v-4" stroke="#555" stroke-width="1.2" fill="none"/>
<path d="M713.2 172V134.5H805.3V181" stroke="#0b18d0" stroke-width="2.4" fill="none"/>
<path d="M709.8 166.5L713.2 175.5L716.6 166.5Z M801.9 176L805.3 185L808.7 176Z" fill="#0b18d0"/>
<path d="M725.9 176V145.5H811.9V204" stroke="#e0202a" stroke-width="2.4" fill="none"/>
<path d="M722.5 170L725.9 179L729.3 170Z M808.5 199L811.9 208L815.3 199Z" fill="#e0202a"/>
<text x="732" y="126.7" font-size="21.5" text-anchor="start" font-family="'Liberation Sans', sans-serif" transform="translate(732 0) scale(1.12 1) translate(-732 0)">site B</text>
<text x="735" y="176.4" font-size="23" text-anchor="start" font-family="'Liberation Sans', sans-serif" transform="translate(735 0) scale(1.07 1) translate(-735 0)">site A</text>
<text x="626.3" y="158.5" font-size="28.6" text-anchor="end" font-family="'Liberation Sans', sans-serif" >0.02</text>
<text x="626.3" y="260.5" font-size="28.6" text-anchor="end" font-family="'Liberation Sans', sans-serif" >0.00</text>
<text x="626.3" y="299" font-size="28.6" text-anchor="end" font-family="'Liberation Sans', sans-serif" >0.02</text>
<text x="626.3" y="401" font-size="28.6" text-anchor="end" font-family="'Liberation Sans', sans-serif" >0.00</text>
<text x="626.3" y="435" font-size="28.6" text-anchor="end" font-family="'Liberation Sans', sans-serif" >0.02</text>
<text x="626.3" y="535.5" font-size="28.6" text-anchor="end" font-family="'Liberation Sans', sans-serif" >0.00</text>
<text x="626.3" y="567" font-size="28.6" text-anchor="end" font-family="'Liberation Sans', sans-serif" >0.04</text>
<text x="626.3" y="667" font-size="28.6" text-anchor="end" font-family="'Liberation Sans', sans-serif" >0.00</text>
<text x="630" y="687.3" font-size="28" text-anchor="middle" font-family="'Liberation Sans', sans-serif" >0.0</text>
<text x="754.5" y="687.3" font-size="28" text-anchor="middle" font-family="'Liberation Sans', sans-serif" >0.5</text>
<text x="879" y="687.3" font-size="28" text-anchor="middle" font-family="'Liberation Sans', sans-serif" >1.0</text>
<text x="668" y="718.2" font-size="29" text-anchor="start" font-family="'Liberation Sans', sans-serif" >Freq.(Grad/s)</text>
<text transform="translate(561 378) rotate(-90)" font-size="32.5" text-anchor="middle" font-family="'Liberation Sans', sans-serif" >FFT (a.u.)</text>
<text x="637.9" y="60" font-size="52" text-anchor="start" font-family="'Liberation Sans', sans-serif" >(b)</text>
<rect x="1052" y="69" width="432" height="191.3" fill="#F8E5C2"/>
<rect x="1052" y="260.3" width="432" height="190.89999999999998" fill="#B4E3FC"/>
<rect x="1052" y="451.2" width="432" height="191.3" fill="#F8E5C2"/>
<path d="M1052 208.9h8M1052 158.2h8M1052 107.5h8M1052 234.2h4.5M1052 183.5h4.5M1052 132.8h4.5M1052 82.1h4.5M1052 370.3h8M1052 296.8h8M1052 407.1h4.5M1052 333.6h4.5M1052 603.5h8M1052 564.6h8M1052 525.6h8M1052 486.7h8M1052 622.9h4.5M1052 584h4.5M1052 545.1h4.5M1052 506.2h4.5M1052 467.3h4.5M1175.5 642.5v-8M1299.1 642.5v-8M1422.6 642.5v-8M1113.8 642.5v-4.5M1237.3 642.5v-4.5M1360.8 642.5v-4.5M1079 451.2v-3.5M1105.9 451.2v-6M1132.8 451.2v-3.5M1159.8 451.2v-6M1186.8 451.2v-3.5M1213.7 451.2v-6M1240.7 451.2v-3.5M1267.6 451.2v-6M1294.5 451.2v-3.5M1321.5 451.2v-6M1348.5 451.2v-3.5M1375.4 451.2v-6M1402.3 451.2v-3.5M1429.3 451.2v-6M1456.2 451.2v-3.5" stroke="#111" stroke-width="1.8" fill="none"/>
<rect x="1193" y="69" width="43.59999999999991" height="573.5" fill="#fff2f2" opacity="0.62"/>
<g clip-path="url(#clipC)">
<path d="M1143.4 212v9 M1140 211h7 M1159.4 225v10 M1156 224.3h7" stroke="#3a8a3a" stroke-width="1" fill="none"/>
<circle cx="1057.8" cy="210.3" r="8.5" fill="url(#gball)"/>
<circle cx="1078.6" cy="209.6" r="8.5" fill="url(#gball)"/>
<circle cx="1105.5" cy="215.4" r="8.5" fill="url(#gball)"/>
<circle cx="1143.4" cy="221" r="8.5" fill="url(#gball)"/>
<circle cx="1159.4" cy="235.5" r="8.5" fill="url(#gball)"/>
<circle cx="1194" cy="239.6" r="8.5" fill="url(#gball)"/>
<circle cx="1212.8" cy="246.4" r="8.5" fill="url(#gball)"/>
<circle cx="1252.1" cy="237.3" r="8.5" fill="url(#gball)"/>
<circle cx="1360.9" cy="237.3" r="8.5" fill="url(#gball)"/>
<circle cx="1057.4" cy="442.5" r="8.5" fill="url(#gball)"/>
<circle cx="1078.6" cy="442.5" r="8.5" fill="url(#gball)"/>
<circle cx="1105.7" cy="442.5" r="8.5" fill="url(#gball)"/>
<circle cx="1143.4" cy="442.5" r="8.5" fill="url(#gball)"/>
<circle cx="1159.9" cy="442.5" r="8.5" fill="url(#gball)"/>
<circle cx="1197.3" cy="442.5" r="8.5" fill="url(#gball)"/>
<circle cx="1211.2" cy="443.2" r="8.5" fill="url(#gball)"/>
<circle cx="1253" cy="443.2" r="8.5" fill="url(#gball)"/>
<circle cx="1360.8" cy="443.2" r="8.5" fill="url(#gball)"/>
<circle cx="1058.2" cy="486.1" r="8.5" fill="url(#gball)"/>
<circle cx="1082.3" cy="486.1" r="8.5" fill="url(#gball)"/>
<circle cx="1112.8" cy="486.1" r="8.5" fill="url(#gball)"/>
<circle cx="1156.4" cy="486.1" r="8.5" fill="url(#gball)"/>
<circle cx="1175.1" cy="488" r="8.5" fill="url(#gball)"/>
<circle cx="1217.5" cy="486.1" r="8.5" fill="url(#gball)"/>
<circle cx="1234.5" cy="486.1" r="8.5" fill="url(#gball)"/>
<circle cx="1281.8" cy="488" r="8.5" fill="url(#gball)"/>
<circle cx="1405.4" cy="488.4" r="8.5" fill="url(#gball)"/>
<path d="M1056.5 235.8 L1059.3 242.5 L1066.6 243.1 L1061 247.9 L1062.7 255 L1056.5 251.2 L1050.3 255 L1052 247.9 L1046.4 243.1 L1053.7 242.5ZM1078.6 235.8 L1081.4 242.5 L1088.7 243.1 L1083.1 247.9 L1084.8 255 L1078.6 251.2 L1072.4 255 L1074.1 247.9 L1068.5 243.1 L1075.8 242.5ZM1105.5 232 L1108.3 238.7 L1115.6 239.3 L1110 244.1 L1111.7 251.2 L1105.5 247.4 L1099.3 251.2 L1101 244.1 L1095.4 239.3 L1102.7 238.7ZM1142.9 235.8 L1145.7 242.5 L1153 243.1 L1147.4 247.9 L1149.1 255 L1142.9 251.2 L1136.7 255 L1138.4 247.9 L1132.8 243.1 L1140.1 242.5ZM1159.4 237.6 L1162.2 244.3 L1169.5 244.9 L1163.9 249.7 L1165.6 256.8 L1159.4 253 L1153.2 256.8 L1154.9 249.7 L1149.3 244.9 L1156.6 244.3ZM1196.3 236.6 L1199.1 243.3 L1206.4 243.9 L1200.8 248.7 L1202.5 255.8 L1196.3 252 L1190.1 255.8 L1191.8 248.7 L1186.2 243.9 L1193.5 243.3ZM1210.3 98.9 L1213.1 105.6 L1220.4 106.2 L1214.8 111 L1216.5 118.1 L1210.3 114.3 L1204.1 118.1 L1205.8 111 L1200.2 106.2 L1207.5 105.6ZM1252.5 105 L1255.3 111.7 L1262.6 112.3 L1257 117.1 L1258.7 124.2 L1252.5 120.4 L1246.3 124.2 L1248 117.1 L1242.4 112.3 L1249.7 111.7ZM1360.8 96 L1363.6 102.7 L1370.9 103.3 L1365.3 108.1 L1367 115.2 L1360.8 111.4 L1354.6 115.2 L1356.3 108.1 L1350.7 103.3 L1358 102.7ZM1057.4 431.9 L1060.2 438.6 L1067.5 439.2 L1061.9 444 L1063.6 451.1 L1057.4 447.3 L1051.2 451.1 L1052.9 444 L1047.3 439.2 L1054.6 438.6ZM1078.6 431.9 L1081.4 438.6 L1088.7 439.2 L1083.1 444 L1084.8 451.1 L1078.6 447.3 L1072.4 451.1 L1074.1 444 L1068.5 439.2 L1075.8 438.6ZM1105.7 431.9 L1108.5 438.6 L1115.8 439.2 L1110.2 444 L1111.9 451.1 L1105.7 447.3 L1099.5 451.1 L1101.2 444 L1095.6 439.2 L1102.9 438.6ZM1143.4 431.9 L1146.2 438.6 L1153.5 439.2 L1147.9 444 L1149.6 451.1 L1143.4 447.3 L1137.2 451.1 L1138.9 444 L1133.3 439.2 L1140.6 438.6ZM1159.9 431.9 L1162.7 438.6 L1170 439.2 L1164.4 444 L1166.1 451.1 L1159.9 447.3 L1153.7 451.1 L1155.4 444 L1149.8 439.2 L1157.1 438.6ZM1197.3 431.9 L1200.1 438.6 L1207.4 439.2 L1201.8 444 L1203.5 451.1 L1197.3 447.3 L1191.1 451.1 L1192.8 444 L1187.2 439.2 L1194.5 438.6ZM1210.3 359.8 L1213.1 366.5 L1220.4 367.1 L1214.8 371.9 L1216.5 379 L1210.3 375.2 L1204.1 379 L1205.8 371.9 L1200.2 367.1 L1207.5 366.5ZM1253 360 L1255.8 366.7 L1263.1 367.3 L1257.5 372.1 L1259.2 379.2 L1253 375.4 L1246.8 379.2 L1248.5 372.1 L1242.9 367.3 L1250.2 366.7ZM1360.8 360 L1363.6 366.7 L1370.9 367.3 L1365.3 372.1 L1367 379.2 L1360.8 375.4 L1354.6 379.2 L1356.3 372.1 L1350.7 367.3 L1358 366.7ZM1058.2 593.2 L1061 599.9 L1068.3 600.5 L1062.7 605.3 L1064.4 612.4 L1058.2 608.6 L1052 612.4 L1053.7 605.3 L1048.1 600.5 L1055.4 599.9ZM1082.3 593.2 L1085.1 599.9 L1092.4 600.5 L1086.8 605.3 L1088.5 612.4 L1082.3 608.6 L1076.1 612.4 L1077.8 605.3 L1072.2 600.5 L1079.5 599.9ZM1112.8 593.2 L1115.6 599.9 L1122.9 600.5 L1117.3 605.3 L1119 612.4 L1112.8 608.6 L1106.6 612.4 L1108.3 605.3 L1102.7 600.5 L1110 599.9ZM1156.4 593.2 L1159.2 599.9 L1166.5 600.5 L1160.9 605.3 L1162.6 612.4 L1156.4 608.6 L1150.2 612.4 L1151.9 605.3 L1146.3 600.5 L1153.6 599.9ZM1175.1 595.1 L1177.9 601.8 L1185.2 602.4 L1179.6 607.2 L1181.3 614.3 L1175.1 610.5 L1168.9 614.3 L1170.6 607.2 L1165 602.4 L1172.3 601.8ZM1217.5 592.1 L1220.3 598.8 L1227.6 599.4 L1222 604.2 L1223.7 611.3 L1217.5 607.5 L1211.3 611.3 L1213 604.2 L1207.4 599.4 L1214.7 598.8ZM1234.5 592.1 L1237.3 598.8 L1244.6 599.4 L1239 604.2 L1240.7 611.3 L1234.5 607.5 L1228.3 611.3 L1230 604.2 L1224.4 599.4 L1231.7 598.8ZM1281.8 592.4 L1284.6 599.1 L1291.9 599.7 L1286.3 604.5 L1288 611.6 L1281.8 607.8 L1275.6 611.6 L1277.3 604.5 L1271.7 599.7 L1279 599.1ZM1405.4 592.5 L1408.2 599.2 L1415.5 599.8 L1409.9 604.6 L1411.6 611.7 L1405.4 607.9 L1399.2 611.7 L1400.9 604.6 L1395.3 599.8 L1402.6 599.2Z" fill="#fb8a1e" stroke="#111" stroke-width="2" stroke-linejoin="miter"/>
<g clip-path="url(#clipBand)">
<circle cx="1194" cy="239.6" r="8.5" fill="url(#bball)"/>
<circle cx="1212.8" cy="246.4" r="8.5" fill="url(#bball)"/>
<circle cx="1197.3" cy="442.5" r="8.5" fill="url(#bball)"/>
<circle cx="1211.2" cy="443.2" r="8.5" fill="url(#bball)"/>
<circle cx="1217.5" cy="486.1" r="8.5" fill="url(#bball)"/>
<circle cx="1234.5" cy="486.1" r="8.5" fill="url(#bball)"/>
<path d="M1196.3 236.6 L1199.1 243.3 L1206.4 243.9 L1200.8 248.7 L1202.5 255.8 L1196.3 252 L1190.1 255.8 L1191.8 248.7 L1186.2 243.9 L1193.5 243.3ZM1210.3 98.9 L1213.1 105.6 L1220.4 106.2 L1214.8 111 L1216.5 118.1 L1210.3 114.3 L1204.1 118.1 L1205.8 111 L1200.2 106.2 L1207.5 105.6ZM1197.3 431.9 L1200.1 438.6 L1207.4 439.2 L1201.8 444 L1203.5 451.1 L1197.3 447.3 L1191.1 451.1 L1192.8 444 L1187.2 439.2 L1194.5 438.6ZM1210.3 359.8 L1213.1 366.5 L1220.4 367.1 L1214.8 371.9 L1216.5 379 L1210.3 375.2 L1204.1 379 L1205.8 371.9 L1200.2 367.1 L1207.5 366.5ZM1217.5 592.1 L1220.3 598.8 L1227.6 599.4 L1222 604.2 L1223.7 611.3 L1217.5 607.5 L1211.3 611.3 L1213 604.2 L1207.4 599.4 L1214.7 598.8ZM1234.5 592.1 L1237.3 598.8 L1244.6 599.4 L1239 604.2 L1240.7 611.3 L1234.5 607.5 L1228.3 611.3 L1230 604.2 L1224.4 599.4 L1231.7 598.8Z" fill="#ec4f1c" stroke="#3a0a05" stroke-width="2"/>
</g>
<rect x="1193" y="69" width="43.59999999999991" height="573.5" fill="url(#hatchC)"/>
</g>
<path d="M1052 260.3H1484 M1052 451.2H1484" stroke="#111" stroke-width="2.2" fill="none"/>
<rect x="1052" y="69" width="432" height="573.5" fill="none" stroke="#111" stroke-width="2.2"/>
<rect x="1356.4" y="136.4" width="119" height="55.8" fill="#fff" stroke="#555" stroke-width="1.6"/>
<path d="M1389.3 142 L1392.1 148.7 L1399.4 149.3 L1393.8 154.1 L1395.5 161.2 L1389.3 157.4 L1383.1 161.2 L1384.8 154.1 L1379.2 149.3 L1386.5 148.7Z" fill="#fb8a1e" stroke="#111" stroke-width="2"/>
<circle cx="1389.3" cy="177.3" r="8.6" fill="url(#gball)"/>
<text x="1417" y="159.5" font-size="19.5" text-anchor="start" font-family="'Liberation Sans', sans-serif" >site A</text>
<text x="1417" y="184.3" font-size="19.5" text-anchor="start" font-family="'Liberation Sans', sans-serif" >site B</text>
<text x="1042.2" y="268.8" font-size="25.5" text-anchor="end" font-family="'Liberation Sans', sans-serif" >0</text>
<text x="1042.2" y="218.2" font-size="25.5" text-anchor="end" font-family="'Liberation Sans', sans-serif" >20</text>
<text x="1042.2" y="167.6" font-size="25.5" text-anchor="end" font-family="'Liberation Sans', sans-serif" >40</text>
<text x="1042.2" y="117" font-size="25.5" text-anchor="end" font-family="'Liberation Sans', sans-serif" >60</text>
<text x="1042.2" y="453.2" font-size="25.5" text-anchor="end" font-family="'Liberation Sans', sans-serif" >0.0</text>
<text x="1042.2" y="379.7" font-size="25.5" text-anchor="end" font-family="'Liberation Sans', sans-serif" >0.2</text>
<text x="1042.2" y="306.2" font-size="25.5" text-anchor="end" font-family="'Liberation Sans', sans-serif" >0.4</text>
<text x="1042.2" y="651.8" font-size="25.5" text-anchor="end" font-family="'Liberation Sans', sans-serif" >0</text>
<text x="1042.2" y="613.7" font-size="25.5" text-anchor="end" font-family="'Liberation Sans', sans-serif" >20</text>
<text x="1042.2" y="575.2" font-size="25.5" text-anchor="end" font-family="'Liberation Sans', sans-serif" >40</text>
<text x="1042.2" y="536.2" font-size="25.5" text-anchor="end" font-family="'Liberation Sans', sans-serif" >60</text>
<text x="1042.2" y="496.5" font-size="25.5" text-anchor="end" font-family="'Liberation Sans', sans-serif" >80</text>
<text x="1052" y="671.6" font-size="25.5" text-anchor="middle" font-family="'Liberation Sans', sans-serif" >0</text>
<text x="1175.5" y="671.6" font-size="25.5" text-anchor="middle" font-family="'Liberation Sans', sans-serif" >200</text>
<text x="1299.1" y="671.6" font-size="25.5" text-anchor="middle" font-family="'Liberation Sans', sans-serif" >400</text>
<text x="1422.6" y="671.6" font-size="25.5" text-anchor="middle" font-family="'Liberation Sans', sans-serif" >600</text>
<text x="1238.2" y="713" font-size="25.5" text-anchor="start" font-family="'Liberation Sans', sans-serif" >T (K)</text>
<text transform="translate(1002 538.5) rotate(-90)" font-size="25.5" text-anchor="middle" font-family="'Liberation Sans', sans-serif" >Fraction (%)</text>
<text transform="translate(1005 342.6) rotate(-90)" font-size="27" text-anchor="middle" font-family="'Liberation Sans', sans-serif" >&#951;</text>
<text transform="translate(996 164.5) rotate(-90)" font-family="'Liberation Serif', serif" font-size="25" text-anchor="middle">&#957;<tspan font-size="17" dx="1" dy="6">Q</tspan><tspan dx="5" dy="-6">(MHz)</tspan></text>
<text x="1068.4" y="50" font-size="52" text-anchor="start" font-family="'Liberation Sans', sans-serif" >(c)</text>
</svg></body></html>
